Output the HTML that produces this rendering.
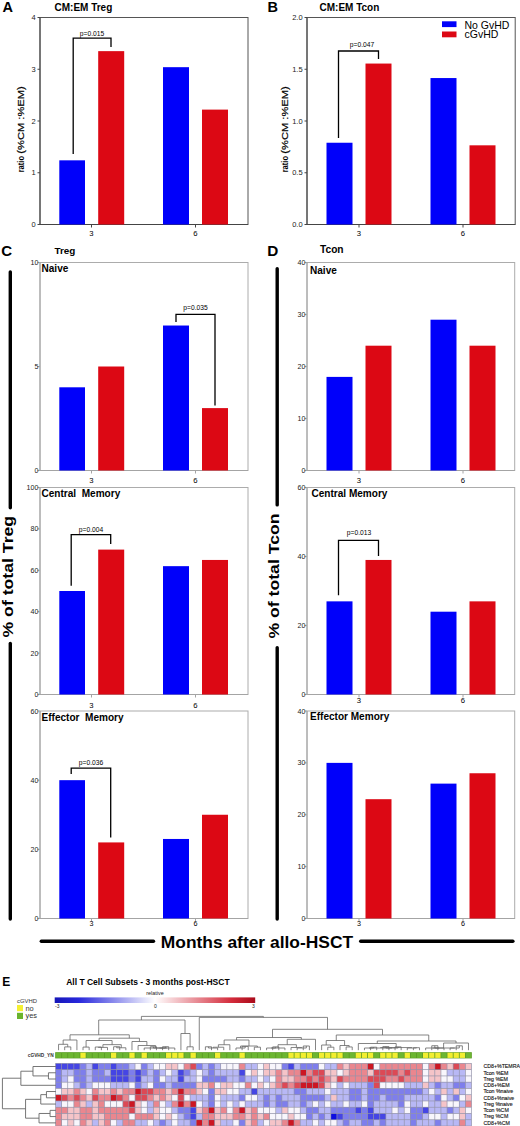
<!DOCTYPE html>
<html><head><meta charset="utf-8"><title>Figure</title>
<style>html,body{margin:0;padding:0;background:#fff;}
svg{display:block;font-family:"Liberation Sans",sans-serif;}</style></head>
<body><svg width="520" height="1126" viewBox="0 0 520 1126">
<rect x="0" y="0" width="520" height="1126" fill="#fff"/>
<rect x="40.00" y="17.50" width="208.00" height="207.00" fill="none" stroke="#555" stroke-width="1"/>
<line x1="40.00" y1="17.50" x2="40.00" y2="224.50" stroke="#444" stroke-width="1" />
<line x1="38.00" y1="224.50" x2="248.00" y2="224.50" stroke="#444" stroke-width="1" />
<line x1="37.50" y1="224.50" x2="40.00" y2="224.50" stroke="#444" stroke-width="1" />
<text x="35.60" y="227.20" font-size="7.5" text-anchor="end" fill="#222" >0</text>
<line x1="37.50" y1="172.75" x2="40.00" y2="172.75" stroke="#444" stroke-width="1" />
<text x="35.60" y="175.45" font-size="7.5" text-anchor="end" fill="#222" >1</text>
<line x1="37.50" y1="121.00" x2="40.00" y2="121.00" stroke="#444" stroke-width="1" />
<text x="35.60" y="123.70" font-size="7.5" text-anchor="end" fill="#222" >2</text>
<line x1="37.50" y1="69.25" x2="40.00" y2="69.25" stroke="#444" stroke-width="1" />
<text x="35.60" y="71.95" font-size="7.5" text-anchor="end" fill="#222" >3</text>
<line x1="37.50" y1="17.50" x2="40.00" y2="17.50" stroke="#444" stroke-width="1" />
<text x="35.60" y="20.20" font-size="7.5" text-anchor="end" fill="#222" >4</text>
<rect x="59.30" y="160.33" width="25.70" height="64.17" fill="#0000fa" />
<rect x="98.20" y="51.14" width="26.00" height="173.36" fill="#dc0814" />
<rect x="163.00" y="67.18" width="26.00" height="157.32" fill="#0000fa" />
<rect x="202.00" y="109.61" width="26.00" height="114.89" fill="#dc0814" />
<line x1="91.50" y1="224.50" x2="91.50" y2="227.50" stroke="#444" stroke-width="1" />
<text x="91.50" y="235.70" font-size="7.7" text-anchor="middle" fill="#000" >3</text>
<line x1="195.50" y1="224.50" x2="195.50" y2="227.50" stroke="#444" stroke-width="1" />
<text x="195.50" y="235.70" font-size="7.7" text-anchor="middle" fill="#000" >6</text>
<polyline points="73.20,154.00 73.20,38.20 111.00,38.20 111.00,47.00" fill="none" stroke="#000" stroke-width="1.3"/>
<text x="92.00" y="35.70" font-size="6.7" text-anchor="middle" fill="#000" >p=0.015</text>
<rect x="307.00" y="17.50" width="208.20" height="207.00" fill="none" stroke="#555" stroke-width="1"/>
<line x1="307.00" y1="17.50" x2="307.00" y2="224.50" stroke="#444" stroke-width="1" />
<line x1="305.00" y1="224.50" x2="515.20" y2="224.50" stroke="#444" stroke-width="1" />
<line x1="304.50" y1="224.50" x2="307.00" y2="224.50" stroke="#444" stroke-width="1" />
<text x="302.60" y="227.20" font-size="7.5" text-anchor="end" fill="#222" >0.0</text>
<line x1="304.50" y1="172.75" x2="307.00" y2="172.75" stroke="#444" stroke-width="1" />
<text x="302.60" y="175.45" font-size="7.5" text-anchor="end" fill="#222" >0.5</text>
<line x1="304.50" y1="121.00" x2="307.00" y2="121.00" stroke="#444" stroke-width="1" />
<text x="302.60" y="123.70" font-size="7.5" text-anchor="end" fill="#222" >1.0</text>
<line x1="304.50" y1="69.25" x2="307.00" y2="69.25" stroke="#444" stroke-width="1" />
<text x="302.60" y="71.95" font-size="7.5" text-anchor="end" fill="#222" >1.5</text>
<line x1="304.50" y1="17.50" x2="307.00" y2="17.50" stroke="#444" stroke-width="1" />
<text x="302.60" y="20.20" font-size="7.5" text-anchor="end" fill="#222" >2.0</text>
<rect x="326.50" y="142.74" width="26.00" height="81.77" fill="#0000fa" />
<rect x="365.50" y="63.56" width="26.00" height="160.94" fill="#dc0814" />
<rect x="430.50" y="78.05" width="26.00" height="146.45" fill="#0000fa" />
<rect x="469.50" y="145.32" width="26.00" height="79.18" fill="#dc0814" />
<line x1="359.00" y1="224.50" x2="359.00" y2="227.50" stroke="#444" stroke-width="1" />
<text x="359.00" y="235.70" font-size="7.7" text-anchor="middle" fill="#000" >3</text>
<line x1="463.00" y1="224.50" x2="463.00" y2="227.50" stroke="#444" stroke-width="1" />
<text x="463.00" y="235.70" font-size="7.7" text-anchor="middle" fill="#000" >6</text>
<polyline points="338.50,138.00 338.50,51.00 378.50,51.00 378.50,59.00" fill="none" stroke="#000" stroke-width="1.3"/>
<text x="362.00" y="47.00" font-size="6.7" text-anchor="middle" fill="#000" >p=0.047</text>
<rect x="40.00" y="262.50" width="208.00" height="208.00" fill="none" stroke="#acacac" stroke-width="1"/>
<line x1="40.00" y1="262.50" x2="40.00" y2="470.50" stroke="#a4a4a4" stroke-width="1" />
<line x1="38.00" y1="470.50" x2="248.00" y2="470.50" stroke="#a4a4a4" stroke-width="1" />
<line x1="37.50" y1="470.50" x2="40.00" y2="470.50" stroke="#a4a4a4" stroke-width="1" />
<text x="38.40" y="473.06" font-size="7.1" text-anchor="end" fill="#222" >0</text>
<line x1="37.50" y1="366.50" x2="40.00" y2="366.50" stroke="#a4a4a4" stroke-width="1" />
<text x="38.40" y="369.06" font-size="7.1" text-anchor="end" fill="#222" >5</text>
<line x1="37.50" y1="262.50" x2="40.00" y2="262.50" stroke="#a4a4a4" stroke-width="1" />
<text x="38.40" y="265.06" font-size="7.1" text-anchor="end" fill="#222" >10</text>
<rect x="59.30" y="387.30" width="25.70" height="83.20" fill="#0000fa" />
<rect x="98.20" y="366.50" width="26.00" height="104.00" fill="#dc0814" />
<rect x="163.00" y="325.52" width="26.00" height="144.98" fill="#0000fa" />
<rect x="202.00" y="408.10" width="26.00" height="62.40" fill="#dc0814" />
<line x1="91.50" y1="470.50" x2="91.50" y2="473.50" stroke="#a4a4a4" stroke-width="1" />
<text x="91.50" y="483.00" font-size="7.7" text-anchor="middle" fill="#000" >3</text>
<line x1="195.50" y1="470.50" x2="195.50" y2="473.50" stroke="#a4a4a4" stroke-width="1" />
<text x="195.50" y="483.00" font-size="7.7" text-anchor="middle" fill="#000" >6</text>
<text x="41.50" y="271.60" font-size="10.05" text-anchor="start" font-weight="bold" fill="#000" >Naive</text>
<polyline points="176.00,322.00 176.00,314.30 215.00,314.30 215.00,405.50" fill="none" stroke="#000" stroke-width="1.3"/>
<text x="195.50" y="310.20" font-size="6.7" text-anchor="middle" fill="#000" >p=0.035</text>
<rect x="40.00" y="487.50" width="208.00" height="207.00" fill="none" stroke="#acacac" stroke-width="1"/>
<line x1="40.00" y1="487.50" x2="40.00" y2="694.50" stroke="#a4a4a4" stroke-width="1" />
<line x1="38.00" y1="694.50" x2="248.00" y2="694.50" stroke="#a4a4a4" stroke-width="1" />
<line x1="37.50" y1="694.50" x2="40.00" y2="694.50" stroke="#a4a4a4" stroke-width="1" />
<text x="38.40" y="697.06" font-size="7.1" text-anchor="end" fill="#222" >0</text>
<line x1="37.50" y1="653.10" x2="40.00" y2="653.10" stroke="#a4a4a4" stroke-width="1" />
<text x="38.40" y="655.66" font-size="7.1" text-anchor="end" fill="#222" >20</text>
<line x1="37.50" y1="611.70" x2="40.00" y2="611.70" stroke="#a4a4a4" stroke-width="1" />
<text x="38.40" y="614.26" font-size="7.1" text-anchor="end" fill="#222" >40</text>
<line x1="37.50" y1="570.30" x2="40.00" y2="570.30" stroke="#a4a4a4" stroke-width="1" />
<text x="38.40" y="572.86" font-size="7.1" text-anchor="end" fill="#222" >60</text>
<line x1="37.50" y1="528.90" x2="40.00" y2="528.90" stroke="#a4a4a4" stroke-width="1" />
<text x="38.40" y="531.46" font-size="7.1" text-anchor="end" fill="#222" >80</text>
<line x1="37.50" y1="487.50" x2="40.00" y2="487.50" stroke="#a4a4a4" stroke-width="1" />
<text x="38.40" y="490.06" font-size="7.1" text-anchor="end" fill="#222" >100</text>
<rect x="59.30" y="591.00" width="25.70" height="103.50" fill="#0000fa" />
<rect x="98.20" y="549.60" width="26.00" height="144.90" fill="#dc0814" />
<rect x="163.00" y="566.16" width="26.00" height="128.34" fill="#0000fa" />
<rect x="202.00" y="559.95" width="26.00" height="134.55" fill="#dc0814" />
<line x1="91.50" y1="694.50" x2="91.50" y2="697.50" stroke="#a4a4a4" stroke-width="1" />
<text x="91.50" y="707.50" font-size="7.7" text-anchor="middle" fill="#000" >3</text>
<line x1="195.50" y1="694.50" x2="195.50" y2="697.50" stroke="#a4a4a4" stroke-width="1" />
<text x="195.50" y="707.50" font-size="7.7" text-anchor="middle" fill="#000" >6</text>
<text x="41.50" y="496.80" font-size="10.05" text-anchor="start" font-weight="bold" fill="#000" >Central&#160;&#160;Memory</text>
<polyline points="71.20,585.70 71.20,534.60 110.70,534.60 110.70,544.00" fill="none" stroke="#000" stroke-width="1.3"/>
<text x="91.00" y="531.70" font-size="6.7" text-anchor="middle" fill="#000" >p=0.004</text>
<rect x="40.00" y="711.00" width="208.00" height="207.50" fill="none" stroke="#acacac" stroke-width="1"/>
<line x1="40.00" y1="711.00" x2="40.00" y2="918.50" stroke="#a4a4a4" stroke-width="1" />
<line x1="38.00" y1="918.50" x2="248.00" y2="918.50" stroke="#a4a4a4" stroke-width="1" />
<line x1="37.50" y1="918.50" x2="40.00" y2="918.50" stroke="#a4a4a4" stroke-width="1" />
<text x="38.40" y="921.06" font-size="7.1" text-anchor="end" fill="#222" >0</text>
<line x1="37.50" y1="849.33" x2="40.00" y2="849.33" stroke="#a4a4a4" stroke-width="1" />
<text x="38.40" y="851.89" font-size="7.1" text-anchor="end" fill="#222" >20</text>
<line x1="37.50" y1="780.17" x2="40.00" y2="780.17" stroke="#a4a4a4" stroke-width="1" />
<text x="38.40" y="782.72" font-size="7.1" text-anchor="end" fill="#222" >40</text>
<line x1="37.50" y1="711.00" x2="40.00" y2="711.00" stroke="#a4a4a4" stroke-width="1" />
<text x="38.40" y="713.56" font-size="7.1" text-anchor="end" fill="#222" >60</text>
<rect x="59.30" y="780.17" width="25.70" height="138.33" fill="#0000fa" />
<rect x="98.20" y="842.42" width="26.00" height="76.08" fill="#dc0814" />
<rect x="163.00" y="838.96" width="26.00" height="79.54" fill="#0000fa" />
<rect x="202.00" y="814.75" width="26.00" height="103.75" fill="#dc0814" />
<line x1="91.50" y1="918.50" x2="91.50" y2="921.50" stroke="#a4a4a4" stroke-width="1" />
<text x="91.50" y="925.90" font-size="7.2" text-anchor="middle" fill="#000" >3</text>
<line x1="195.50" y1="918.50" x2="195.50" y2="921.50" stroke="#a4a4a4" stroke-width="1" />
<text x="195.50" y="925.90" font-size="7.2" text-anchor="middle" fill="#000" >6</text>
<text x="41.50" y="721.00" font-size="10.05" text-anchor="start" font-weight="bold" fill="#000" >Effector&#160;&#160;Memory</text>
<polyline points="71.20,774.00 71.20,768.10 110.70,768.10 110.70,837.50" fill="none" stroke="#000" stroke-width="1.3"/>
<text x="91.00" y="764.80" font-size="6.7" text-anchor="middle" fill="#000" >p=0.036</text>
<rect x="307.00" y="262.50" width="207.70" height="208.00" fill="none" stroke="#acacac" stroke-width="1"/>
<line x1="307.00" y1="262.50" x2="307.00" y2="470.50" stroke="#a4a4a4" stroke-width="1" />
<line x1="305.00" y1="470.50" x2="514.70" y2="470.50" stroke="#a4a4a4" stroke-width="1" />
<line x1="304.50" y1="470.50" x2="307.00" y2="470.50" stroke="#a4a4a4" stroke-width="1" />
<text x="305.40" y="473.06" font-size="7.1" text-anchor="end" fill="#222" >0</text>
<line x1="304.50" y1="418.50" x2="307.00" y2="418.50" stroke="#a4a4a4" stroke-width="1" />
<text x="305.40" y="421.06" font-size="7.1" text-anchor="end" fill="#222" >10</text>
<line x1="304.50" y1="366.50" x2="307.00" y2="366.50" stroke="#a4a4a4" stroke-width="1" />
<text x="305.40" y="369.06" font-size="7.1" text-anchor="end" fill="#222" >20</text>
<line x1="304.50" y1="314.50" x2="307.00" y2="314.50" stroke="#a4a4a4" stroke-width="1" />
<text x="305.40" y="317.06" font-size="7.1" text-anchor="end" fill="#222" >30</text>
<line x1="304.50" y1="262.50" x2="307.00" y2="262.50" stroke="#a4a4a4" stroke-width="1" />
<text x="305.40" y="265.06" font-size="7.1" text-anchor="end" fill="#222" >40</text>
<rect x="326.50" y="376.90" width="26.00" height="93.60" fill="#0000fa" />
<rect x="365.50" y="345.70" width="26.00" height="124.80" fill="#dc0814" />
<rect x="430.50" y="319.70" width="26.00" height="150.80" fill="#0000fa" />
<rect x="469.50" y="345.70" width="26.00" height="124.80" fill="#dc0814" />
<line x1="359.00" y1="470.50" x2="359.00" y2="473.50" stroke="#a4a4a4" stroke-width="1" />
<text x="359.00" y="483.00" font-size="7.7" text-anchor="middle" fill="#000" >3</text>
<line x1="463.00" y1="470.50" x2="463.00" y2="473.50" stroke="#a4a4a4" stroke-width="1" />
<text x="463.00" y="483.00" font-size="7.7" text-anchor="middle" fill="#000" >6</text>
<text x="310.00" y="273.80" font-size="10.05" text-anchor="start" font-weight="bold" fill="#000" >Naive</text>
<rect x="307.00" y="487.50" width="207.70" height="207.00" fill="none" stroke="#acacac" stroke-width="1"/>
<line x1="307.00" y1="487.50" x2="307.00" y2="694.50" stroke="#a4a4a4" stroke-width="1" />
<line x1="305.00" y1="694.50" x2="514.70" y2="694.50" stroke="#a4a4a4" stroke-width="1" />
<line x1="304.50" y1="694.50" x2="307.00" y2="694.50" stroke="#a4a4a4" stroke-width="1" />
<text x="305.40" y="697.06" font-size="7.1" text-anchor="end" fill="#222" >0</text>
<line x1="304.50" y1="625.50" x2="307.00" y2="625.50" stroke="#a4a4a4" stroke-width="1" />
<text x="305.40" y="628.06" font-size="7.1" text-anchor="end" fill="#222" >20</text>
<line x1="304.50" y1="556.50" x2="307.00" y2="556.50" stroke="#a4a4a4" stroke-width="1" />
<text x="305.40" y="559.06" font-size="7.1" text-anchor="end" fill="#222" >40</text>
<line x1="304.50" y1="487.50" x2="307.00" y2="487.50" stroke="#a4a4a4" stroke-width="1" />
<text x="305.40" y="490.06" font-size="7.1" text-anchor="end" fill="#222" >60</text>
<rect x="326.50" y="601.35" width="26.00" height="93.15" fill="#0000fa" />
<rect x="365.50" y="559.95" width="26.00" height="134.55" fill="#dc0814" />
<rect x="430.50" y="611.70" width="26.00" height="82.80" fill="#0000fa" />
<rect x="469.50" y="601.35" width="26.00" height="93.15" fill="#dc0814" />
<line x1="359.00" y1="694.50" x2="359.00" y2="697.50" stroke="#a4a4a4" stroke-width="1" />
<text x="359.00" y="703.40" font-size="7.7" text-anchor="middle" fill="#000" >3</text>
<line x1="463.00" y1="694.50" x2="463.00" y2="697.50" stroke="#a4a4a4" stroke-width="1" />
<text x="463.00" y="703.40" font-size="7.7" text-anchor="middle" fill="#000" >6</text>
<text x="311.50" y="496.80" font-size="10.05" text-anchor="start" font-weight="bold" fill="#000" >Central Memory</text>
<polyline points="338.50,595.30 338.50,540.30 378.50,540.30 378.50,556.00" fill="none" stroke="#000" stroke-width="1.3"/>
<text x="359.00" y="534.70" font-size="6.7" text-anchor="middle" fill="#000" >p=0.013</text>
<rect x="307.00" y="711.00" width="207.70" height="207.50" fill="none" stroke="#acacac" stroke-width="1"/>
<line x1="307.00" y1="711.00" x2="307.00" y2="918.50" stroke="#a4a4a4" stroke-width="1" />
<line x1="305.00" y1="918.50" x2="514.70" y2="918.50" stroke="#a4a4a4" stroke-width="1" />
<line x1="304.50" y1="918.50" x2="307.00" y2="918.50" stroke="#a4a4a4" stroke-width="1" />
<text x="305.40" y="921.06" font-size="7.1" text-anchor="end" fill="#222" >0</text>
<line x1="304.50" y1="866.62" x2="307.00" y2="866.62" stroke="#a4a4a4" stroke-width="1" />
<text x="305.40" y="869.18" font-size="7.1" text-anchor="end" fill="#222" >10</text>
<line x1="304.50" y1="814.75" x2="307.00" y2="814.75" stroke="#a4a4a4" stroke-width="1" />
<text x="305.40" y="817.31" font-size="7.1" text-anchor="end" fill="#222" >20</text>
<line x1="304.50" y1="762.88" x2="307.00" y2="762.88" stroke="#a4a4a4" stroke-width="1" />
<text x="305.40" y="765.43" font-size="7.1" text-anchor="end" fill="#222" >30</text>
<line x1="304.50" y1="711.00" x2="307.00" y2="711.00" stroke="#a4a4a4" stroke-width="1" />
<text x="305.40" y="713.56" font-size="7.1" text-anchor="end" fill="#222" >40</text>
<rect x="326.50" y="762.88" width="26.00" height="155.62" fill="#0000fa" />
<rect x="365.50" y="799.19" width="26.00" height="119.31" fill="#dc0814" />
<rect x="430.50" y="783.62" width="26.00" height="134.88" fill="#0000fa" />
<rect x="469.50" y="773.25" width="26.00" height="145.25" fill="#dc0814" />
<line x1="359.00" y1="918.50" x2="359.00" y2="921.50" stroke="#a4a4a4" stroke-width="1" />
<text x="359.00" y="925.90" font-size="7.2" text-anchor="middle" fill="#000" >3</text>
<line x1="463.00" y1="918.50" x2="463.00" y2="921.50" stroke="#a4a4a4" stroke-width="1" />
<text x="463.00" y="925.90" font-size="7.2" text-anchor="middle" fill="#000" >6</text>
<text x="310.00" y="720.30" font-size="10.05" text-anchor="start" font-weight="bold" fill="#000" >Effector Memory</text>
<text x="2.50" y="12.20" font-size="14.5" text-anchor="start" font-weight="bold" fill="#000" >A</text>
<text x="267.50" y="12.20" font-size="14.5" text-anchor="start" font-weight="bold" fill="#000" >B</text>
<text x="1.30" y="256.20" font-size="15" text-anchor="start" font-weight="bold" fill="#000" >C</text>
<text x="267.20" y="255.60" font-size="15.3" text-anchor="start" font-weight="bold" fill="#000" >D</text>
<text x="2.30" y="986.20" font-size="12" text-anchor="start" font-weight="bold" fill="#000" >E</text>
<text x="54.50" y="10.80" font-size="10" text-anchor="start" font-weight="bold" fill="#000" >CM:EM Treg</text>
<text x="319.50" y="10.80" font-size="10" text-anchor="start" font-weight="bold" fill="#000" >CM:EM Tcon</text>
<text x="54.50" y="253.60" font-size="9.9" text-anchor="start" font-weight="bold" fill="#000" >Treg</text>
<text x="320.00" y="253.00" font-size="10.2" text-anchor="start" font-weight="bold" fill="#000" >Tcon</text>
<g transform="translate(23.8,172.3) rotate(-90)"><text x="0" y="0" font-size="8.8" font-weight="bold" textLength="16.3" lengthAdjust="spacingAndGlyphs">ratio</text><text x="18.6" y="0" font-size="9.3" textLength="67.4" lengthAdjust="spacingAndGlyphs" stroke="#000" stroke-width="0.2">(%CM :%EM)</text></g>
<g transform="translate(288,172.3) rotate(-90)"><text x="0" y="0" font-size="8.8" font-weight="bold" textLength="16.3" lengthAdjust="spacingAndGlyphs">ratio</text><text x="18.6" y="0" font-size="9.3" textLength="67.4" lengthAdjust="spacingAndGlyphs" stroke="#000" stroke-width="0.2">(%CM :%EM)</text></g>
<rect x="442.00" y="21.30" width="14.50" height="5.80" fill="#0000fa" />
<rect x="442.00" y="31.50" width="14.50" height="5.80" fill="#dc0814" />
<text x="464.50" y="28.50" font-size="10.5" text-anchor="start" fill="#000" >No GvHD</text>
<text x="464.50" y="38.30" font-size="10.5" text-anchor="start" fill="#000" >cGvHD</text>
<line x1="10.30" y1="272.00" x2="10.30" y2="507.70" stroke="#000" stroke-width="3.4" stroke-linecap="round"/>
<line x1="10.30" y1="643.50" x2="10.30" y2="919.10" stroke="#000" stroke-width="3.4" stroke-linecap="round"/>
<line x1="277.20" y1="268.70" x2="277.20" y2="504.90" stroke="#000" stroke-width="3.4" stroke-linecap="round"/>
<line x1="277.20" y1="647.80" x2="277.20" y2="919.10" stroke="#000" stroke-width="3.4" stroke-linecap="round"/>
<line x1="41.30" y1="941.30" x2="153.50" y2="941.30" stroke="#000" stroke-width="3.4" stroke-linecap="round"/>
<line x1="360.70" y1="941.30" x2="512.90" y2="941.30" stroke="#000" stroke-width="3.4" stroke-linecap="round"/>
<text x="0.00" y="0.00" font-size="15.4" text-anchor="start" font-weight="bold" fill="#000" transform="translate(13.1,637.5) rotate(-90)" textLength="121.6" lengthAdjust="spacingAndGlyphs">% of total Treg</text>
<text x="0.00" y="0.00" font-size="15.5" text-anchor="start" font-weight="bold" fill="#000" transform="translate(279.2,638.5) rotate(-90)" textLength="125" lengthAdjust="spacingAndGlyphs">% of total Tcon</text>
<text x="160.80" y="947.60" font-size="17.4" text-anchor="start" font-weight="bold" fill="#000" >Months after allo-HSCT</text>
<text x="66.20" y="985.00" font-size="8.5" text-anchor="start" font-weight="bold" fill="#000" >All T Cell Subsets - 3 months post-HSCT</text>
<text x="17.00" y="1002.60" font-size="5.9" text-anchor="start" fill="#333" >cGVHD</text>
<rect x="17.00" y="1005.00" width="6.00" height="6.20" fill="#f5f032" />
<text x="25.50" y="1010.60" font-size="7.4" text-anchor="start" fill="#333" >no</text>
<rect x="17.00" y="1012.80" width="6.00" height="6.20" fill="#6ab42d" />
<text x="25.50" y="1018.20" font-size="7.4" text-anchor="start" fill="#333" >yes</text>
<text x="155.00" y="995.40" font-size="5.4" text-anchor="middle" fill="#222" >relative</text>
<defs><linearGradient id="cb" x1="0" x2="1" y1="0" y2="0"><stop offset="0" stop-color="#1616b8"/><stop offset="0.12" stop-color="#2828dc"/><stop offset="0.5" stop-color="#ffffff"/><stop offset="0.88" stop-color="#d42c3c"/><stop offset="1" stop-color="#aa0a1a"/></linearGradient></defs>
<rect x="54.70" y="997.40" width="200.50" height="5.60" fill="url(#cb)" />
<text x="57.20" y="1008.30" font-size="5" text-anchor="middle" fill="#222" >-3</text>
<text x="155.50" y="1008.30" font-size="5" text-anchor="middle" fill="#222" >0</text>
<text x="253.50" y="1008.30" font-size="5" text-anchor="middle" fill="#222" >3</text>
<defs><filter id="bl" x="-2%" y="-5%" width="104%" height="110%"><feGaussianBlur stdDeviation="0.45"/></filter></defs><g filter="url(#bl)">
<rect x="55.20" y="1063.10" width="416.62" height="63.20" fill="#9494aa" />
<rect x="55.85" y="1063.75" width="5.42" height="5.56" fill="#4444e4" />
<rect x="61.97" y="1063.75" width="5.42" height="5.56" fill="#4444e4" />
<rect x="68.09" y="1063.75" width="5.42" height="5.56" fill="#4444e4" />
<rect x="74.20" y="1063.75" width="5.42" height="5.56" fill="#4444e4" />
<rect x="80.32" y="1063.75" width="5.42" height="5.56" fill="#7e7eec" />
<rect x="86.44" y="1063.75" width="5.42" height="5.56" fill="#b8b8f5" />
<rect x="92.56" y="1063.75" width="5.42" height="5.56" fill="#4444e4" />
<rect x="98.68" y="1063.75" width="5.42" height="5.56" fill="#7e7eec" />
<rect x="104.79" y="1063.75" width="5.42" height="5.56" fill="#7e7eec" />
<rect x="110.91" y="1063.75" width="5.42" height="5.56" fill="#4444e4" />
<rect x="117.03" y="1063.75" width="5.42" height="5.56" fill="#7e7eec" />
<rect x="123.15" y="1063.75" width="5.42" height="5.56" fill="#7e7eec" />
<rect x="129.27" y="1063.75" width="5.42" height="5.56" fill="#b8b8f5" />
<rect x="135.38" y="1063.75" width="5.42" height="5.56" fill="#f8f6fc" />
<rect x="141.50" y="1063.75" width="5.42" height="5.56" fill="#7e7eec" />
<rect x="147.62" y="1063.75" width="5.42" height="5.56" fill="#b8b8f5" />
<rect x="153.74" y="1063.75" width="5.42" height="5.56" fill="#f8f6fc" />
<rect x="159.86" y="1063.75" width="5.42" height="5.56" fill="#f8f6fc" />
<rect x="165.97" y="1063.75" width="5.42" height="5.56" fill="#f5c4c8" />
<rect x="172.09" y="1063.75" width="5.42" height="5.56" fill="#f5c4c8" />
<rect x="178.21" y="1063.75" width="5.42" height="5.56" fill="#f8f6fc" />
<rect x="184.33" y="1063.75" width="5.42" height="5.56" fill="#ea868e" />
<rect x="190.45" y="1063.75" width="5.42" height="5.56" fill="#dc4a54" />
<rect x="196.56" y="1063.75" width="5.42" height="5.56" fill="#7e7eec" />
<rect x="202.68" y="1063.75" width="5.42" height="5.56" fill="#b8b8f5" />
<rect x="208.80" y="1063.75" width="5.42" height="5.56" fill="#7e7eec" />
<rect x="214.92" y="1063.75" width="5.42" height="5.56" fill="#b8b8f5" />
<rect x="221.04" y="1063.75" width="5.42" height="5.56" fill="#f8f6fc" />
<rect x="227.15" y="1063.75" width="5.42" height="5.56" fill="#f8f6fc" />
<rect x="233.27" y="1063.75" width="5.42" height="5.56" fill="#f8f6fc" />
<rect x="239.39" y="1063.75" width="5.42" height="5.56" fill="#ea868e" />
<rect x="245.51" y="1063.75" width="5.42" height="5.56" fill="#b8b8f5" />
<rect x="251.63" y="1063.75" width="5.42" height="5.56" fill="#b8b8f5" />
<rect x="257.74" y="1063.75" width="5.42" height="5.56" fill="#f8f6fc" />
<rect x="263.86" y="1063.75" width="5.42" height="5.56" fill="#f5c4c8" />
<rect x="269.98" y="1063.75" width="5.42" height="5.56" fill="#f8f6fc" />
<rect x="276.10" y="1063.75" width="5.42" height="5.56" fill="#f8f6fc" />
<rect x="282.22" y="1063.75" width="5.42" height="5.56" fill="#7e7eec" />
<rect x="288.33" y="1063.75" width="5.42" height="5.56" fill="#4444e4" />
<rect x="294.45" y="1063.75" width="5.42" height="5.56" fill="#b8b8f5" />
<rect x="300.57" y="1063.75" width="5.42" height="5.56" fill="#7e7eec" />
<rect x="306.69" y="1063.75" width="5.42" height="5.56" fill="#7e7eec" />
<rect x="312.81" y="1063.75" width="5.42" height="5.56" fill="#7e7eec" />
<rect x="318.92" y="1063.75" width="5.42" height="5.56" fill="#f8f6fc" />
<rect x="325.04" y="1063.75" width="5.42" height="5.56" fill="#b8b8f5" />
<rect x="331.16" y="1063.75" width="5.42" height="5.56" fill="#b8b8f5" />
<rect x="337.28" y="1063.75" width="5.42" height="5.56" fill="#ea868e" />
<rect x="343.40" y="1063.75" width="5.42" height="5.56" fill="#f5c4c8" />
<rect x="349.51" y="1063.75" width="5.42" height="5.56" fill="#ea868e" />
<rect x="355.63" y="1063.75" width="5.42" height="5.56" fill="#ea868e" />
<rect x="361.75" y="1063.75" width="5.42" height="5.56" fill="#ea868e" />
<rect x="367.87" y="1063.75" width="5.42" height="5.56" fill="#cc1422" />
<rect x="373.99" y="1063.75" width="5.42" height="5.56" fill="#f8f6fc" />
<rect x="380.10" y="1063.75" width="5.42" height="5.56" fill="#ea868e" />
<rect x="386.22" y="1063.75" width="5.42" height="5.56" fill="#ea868e" />
<rect x="392.34" y="1063.75" width="5.42" height="5.56" fill="#ea868e" />
<rect x="398.46" y="1063.75" width="5.42" height="5.56" fill="#ea868e" />
<rect x="404.58" y="1063.75" width="5.42" height="5.56" fill="#ea868e" />
<rect x="410.69" y="1063.75" width="5.42" height="5.56" fill="#ea868e" />
<rect x="416.81" y="1063.75" width="5.42" height="5.56" fill="#ea868e" />
<rect x="422.93" y="1063.75" width="5.42" height="5.56" fill="#f8f6fc" />
<rect x="429.05" y="1063.75" width="5.42" height="5.56" fill="#ea868e" />
<rect x="435.17" y="1063.75" width="5.42" height="5.56" fill="#cc1422" />
<rect x="441.28" y="1063.75" width="5.42" height="5.56" fill="#ea868e" />
<rect x="447.40" y="1063.75" width="5.42" height="5.56" fill="#f5c4c8" />
<rect x="453.52" y="1063.75" width="5.42" height="5.56" fill="#dc4a54" />
<rect x="459.64" y="1063.75" width="5.42" height="5.56" fill="#ea868e" />
<rect x="465.76" y="1063.75" width="5.42" height="5.56" fill="#f5c4c8" />
<rect x="55.85" y="1070.01" width="5.42" height="5.56" fill="#7e7eec" />
<rect x="61.97" y="1070.01" width="5.42" height="5.56" fill="#b8b8f5" />
<rect x="68.09" y="1070.01" width="5.42" height="5.56" fill="#b8b8f5" />
<rect x="74.20" y="1070.01" width="5.42" height="5.56" fill="#7e7eec" />
<rect x="80.32" y="1070.01" width="5.42" height="5.56" fill="#7e7eec" />
<rect x="86.44" y="1070.01" width="5.42" height="5.56" fill="#b8b8f5" />
<rect x="92.56" y="1070.01" width="5.42" height="5.56" fill="#7e7eec" />
<rect x="98.68" y="1070.01" width="5.42" height="5.56" fill="#7e7eec" />
<rect x="104.79" y="1070.01" width="5.42" height="5.56" fill="#b8b8f5" />
<rect x="110.91" y="1070.01" width="5.42" height="5.56" fill="#4444e4" />
<rect x="117.03" y="1070.01" width="5.42" height="5.56" fill="#4444e4" />
<rect x="123.15" y="1070.01" width="5.42" height="5.56" fill="#4444e4" />
<rect x="129.27" y="1070.01" width="5.42" height="5.56" fill="#7e7eec" />
<rect x="135.38" y="1070.01" width="5.42" height="5.56" fill="#4444e4" />
<rect x="141.50" y="1070.01" width="5.42" height="5.56" fill="#7e7eec" />
<rect x="147.62" y="1070.01" width="5.42" height="5.56" fill="#b8b8f5" />
<rect x="153.74" y="1070.01" width="5.42" height="5.56" fill="#7e7eec" />
<rect x="159.86" y="1070.01" width="5.42" height="5.56" fill="#b8b8f5" />
<rect x="165.97" y="1070.01" width="5.42" height="5.56" fill="#f8f6fc" />
<rect x="172.09" y="1070.01" width="5.42" height="5.56" fill="#b8b8f5" />
<rect x="178.21" y="1070.01" width="5.42" height="5.56" fill="#4444e4" />
<rect x="184.33" y="1070.01" width="5.42" height="5.56" fill="#7e7eec" />
<rect x="190.45" y="1070.01" width="5.42" height="5.56" fill="#b8b8f5" />
<rect x="196.56" y="1070.01" width="5.42" height="5.56" fill="#f8f6fc" />
<rect x="202.68" y="1070.01" width="5.42" height="5.56" fill="#b8b8f5" />
<rect x="208.80" y="1070.01" width="5.42" height="5.56" fill="#7e7eec" />
<rect x="214.92" y="1070.01" width="5.42" height="5.56" fill="#b8b8f5" />
<rect x="221.04" y="1070.01" width="5.42" height="5.56" fill="#b8b8f5" />
<rect x="227.15" y="1070.01" width="5.42" height="5.56" fill="#b8b8f5" />
<rect x="233.27" y="1070.01" width="5.42" height="5.56" fill="#b8b8f5" />
<rect x="239.39" y="1070.01" width="5.42" height="5.56" fill="#4444e4" />
<rect x="245.51" y="1070.01" width="5.42" height="5.56" fill="#f8f6fc" />
<rect x="251.63" y="1070.01" width="5.42" height="5.56" fill="#f5c4c8" />
<rect x="257.74" y="1070.01" width="5.42" height="5.56" fill="#f8f6fc" />
<rect x="263.86" y="1070.01" width="5.42" height="5.56" fill="#f5c4c8" />
<rect x="269.98" y="1070.01" width="5.42" height="5.56" fill="#f5c4c8" />
<rect x="276.10" y="1070.01" width="5.42" height="5.56" fill="#ea868e" />
<rect x="282.22" y="1070.01" width="5.42" height="5.56" fill="#f5c4c8" />
<rect x="288.33" y="1070.01" width="5.42" height="5.56" fill="#ea868e" />
<rect x="294.45" y="1070.01" width="5.42" height="5.56" fill="#ea868e" />
<rect x="300.57" y="1070.01" width="5.42" height="5.56" fill="#cc1422" />
<rect x="306.69" y="1070.01" width="5.42" height="5.56" fill="#ea868e" />
<rect x="312.81" y="1070.01" width="5.42" height="5.56" fill="#dc4a54" />
<rect x="318.92" y="1070.01" width="5.42" height="5.56" fill="#dc4a54" />
<rect x="325.04" y="1070.01" width="5.42" height="5.56" fill="#f5c4c8" />
<rect x="331.16" y="1070.01" width="5.42" height="5.56" fill="#f5c4c8" />
<rect x="337.28" y="1070.01" width="5.42" height="5.56" fill="#f8f6fc" />
<rect x="343.40" y="1070.01" width="5.42" height="5.56" fill="#f5c4c8" />
<rect x="349.51" y="1070.01" width="5.42" height="5.56" fill="#ea868e" />
<rect x="355.63" y="1070.01" width="5.42" height="5.56" fill="#ea868e" />
<rect x="361.75" y="1070.01" width="5.42" height="5.56" fill="#ea868e" />
<rect x="367.87" y="1070.01" width="5.42" height="5.56" fill="#f5c4c8" />
<rect x="373.99" y="1070.01" width="5.42" height="5.56" fill="#dc4a54" />
<rect x="380.10" y="1070.01" width="5.42" height="5.56" fill="#dc4a54" />
<rect x="386.22" y="1070.01" width="5.42" height="5.56" fill="#dc4a54" />
<rect x="392.34" y="1070.01" width="5.42" height="5.56" fill="#dc4a54" />
<rect x="398.46" y="1070.01" width="5.42" height="5.56" fill="#ea868e" />
<rect x="404.58" y="1070.01" width="5.42" height="5.56" fill="#dc4a54" />
<rect x="410.69" y="1070.01" width="5.42" height="5.56" fill="#ea868e" />
<rect x="416.81" y="1070.01" width="5.42" height="5.56" fill="#ea868e" />
<rect x="422.93" y="1070.01" width="5.42" height="5.56" fill="#f8f6fc" />
<rect x="429.05" y="1070.01" width="5.42" height="5.56" fill="#f5c4c8" />
<rect x="435.17" y="1070.01" width="5.42" height="5.56" fill="#f5c4c8" />
<rect x="441.28" y="1070.01" width="5.42" height="5.56" fill="#f8f6fc" />
<rect x="447.40" y="1070.01" width="5.42" height="5.56" fill="#b8b8f5" />
<rect x="453.52" y="1070.01" width="5.42" height="5.56" fill="#b8b8f5" />
<rect x="459.64" y="1070.01" width="5.42" height="5.56" fill="#b8b8f5" />
<rect x="465.76" y="1070.01" width="5.42" height="5.56" fill="#f8f6fc" />
<rect x="55.85" y="1076.27" width="5.42" height="5.56" fill="#7e7eec" />
<rect x="61.97" y="1076.27" width="5.42" height="5.56" fill="#b8b8f5" />
<rect x="68.09" y="1076.27" width="5.42" height="5.56" fill="#f8f6fc" />
<rect x="74.20" y="1076.27" width="5.42" height="5.56" fill="#7e7eec" />
<rect x="80.32" y="1076.27" width="5.42" height="5.56" fill="#7e7eec" />
<rect x="86.44" y="1076.27" width="5.42" height="5.56" fill="#b8b8f5" />
<rect x="92.56" y="1076.27" width="5.42" height="5.56" fill="#7e7eec" />
<rect x="98.68" y="1076.27" width="5.42" height="5.56" fill="#7e7eec" />
<rect x="104.79" y="1076.27" width="5.42" height="5.56" fill="#7e7eec" />
<rect x="110.91" y="1076.27" width="5.42" height="5.56" fill="#4444e4" />
<rect x="117.03" y="1076.27" width="5.42" height="5.56" fill="#4444e4" />
<rect x="123.15" y="1076.27" width="5.42" height="5.56" fill="#4444e4" />
<rect x="129.27" y="1076.27" width="5.42" height="5.56" fill="#7e7eec" />
<rect x="135.38" y="1076.27" width="5.42" height="5.56" fill="#4444e4" />
<rect x="141.50" y="1076.27" width="5.42" height="5.56" fill="#b8b8f5" />
<rect x="147.62" y="1076.27" width="5.42" height="5.56" fill="#b8b8f5" />
<rect x="153.74" y="1076.27" width="5.42" height="5.56" fill="#7e7eec" />
<rect x="159.86" y="1076.27" width="5.42" height="5.56" fill="#f8f6fc" />
<rect x="165.97" y="1076.27" width="5.42" height="5.56" fill="#b8b8f5" />
<rect x="172.09" y="1076.27" width="5.42" height="5.56" fill="#b8b8f5" />
<rect x="178.21" y="1076.27" width="5.42" height="5.56" fill="#4444e4" />
<rect x="184.33" y="1076.27" width="5.42" height="5.56" fill="#b8b8f5" />
<rect x="190.45" y="1076.27" width="5.42" height="5.56" fill="#b8b8f5" />
<rect x="196.56" y="1076.27" width="5.42" height="5.56" fill="#f8f6fc" />
<rect x="202.68" y="1076.27" width="5.42" height="5.56" fill="#7e7eec" />
<rect x="208.80" y="1076.27" width="5.42" height="5.56" fill="#7e7eec" />
<rect x="214.92" y="1076.27" width="5.42" height="5.56" fill="#7e7eec" />
<rect x="221.04" y="1076.27" width="5.42" height="5.56" fill="#7e7eec" />
<rect x="227.15" y="1076.27" width="5.42" height="5.56" fill="#b8b8f5" />
<rect x="233.27" y="1076.27" width="5.42" height="5.56" fill="#b8b8f5" />
<rect x="239.39" y="1076.27" width="5.42" height="5.56" fill="#7e7eec" />
<rect x="245.51" y="1076.27" width="5.42" height="5.56" fill="#b8b8f5" />
<rect x="251.63" y="1076.27" width="5.42" height="5.56" fill="#b8b8f5" />
<rect x="257.74" y="1076.27" width="5.42" height="5.56" fill="#f8f6fc" />
<rect x="263.86" y="1076.27" width="5.42" height="5.56" fill="#b8b8f5" />
<rect x="269.98" y="1076.27" width="5.42" height="5.56" fill="#f8f6fc" />
<rect x="276.10" y="1076.27" width="5.42" height="5.56" fill="#ea868e" />
<rect x="282.22" y="1076.27" width="5.42" height="5.56" fill="#f5c4c8" />
<rect x="288.33" y="1076.27" width="5.42" height="5.56" fill="#f5c4c8" />
<rect x="294.45" y="1076.27" width="5.42" height="5.56" fill="#ea868e" />
<rect x="300.57" y="1076.27" width="5.42" height="5.56" fill="#ea868e" />
<rect x="306.69" y="1076.27" width="5.42" height="5.56" fill="#dc4a54" />
<rect x="312.81" y="1076.27" width="5.42" height="5.56" fill="#ea868e" />
<rect x="318.92" y="1076.27" width="5.42" height="5.56" fill="#dc4a54" />
<rect x="325.04" y="1076.27" width="5.42" height="5.56" fill="#ea868e" />
<rect x="331.16" y="1076.27" width="5.42" height="5.56" fill="#f5c4c8" />
<rect x="337.28" y="1076.27" width="5.42" height="5.56" fill="#dc4a54" />
<rect x="343.40" y="1076.27" width="5.42" height="5.56" fill="#ea868e" />
<rect x="349.51" y="1076.27" width="5.42" height="5.56" fill="#ea868e" />
<rect x="355.63" y="1076.27" width="5.42" height="5.56" fill="#ea868e" />
<rect x="361.75" y="1076.27" width="5.42" height="5.56" fill="#ea868e" />
<rect x="367.87" y="1076.27" width="5.42" height="5.56" fill="#dc4a54" />
<rect x="373.99" y="1076.27" width="5.42" height="5.56" fill="#dc4a54" />
<rect x="380.10" y="1076.27" width="5.42" height="5.56" fill="#dc4a54" />
<rect x="386.22" y="1076.27" width="5.42" height="5.56" fill="#ea868e" />
<rect x="392.34" y="1076.27" width="5.42" height="5.56" fill="#ea868e" />
<rect x="398.46" y="1076.27" width="5.42" height="5.56" fill="#dc4a54" />
<rect x="404.58" y="1076.27" width="5.42" height="5.56" fill="#ea868e" />
<rect x="410.69" y="1076.27" width="5.42" height="5.56" fill="#ea868e" />
<rect x="416.81" y="1076.27" width="5.42" height="5.56" fill="#ea868e" />
<rect x="422.93" y="1076.27" width="5.42" height="5.56" fill="#f8f6fc" />
<rect x="429.05" y="1076.27" width="5.42" height="5.56" fill="#f5c4c8" />
<rect x="435.17" y="1076.27" width="5.42" height="5.56" fill="#f5c4c8" />
<rect x="441.28" y="1076.27" width="5.42" height="5.56" fill="#f8f6fc" />
<rect x="447.40" y="1076.27" width="5.42" height="5.56" fill="#f8f6fc" />
<rect x="453.52" y="1076.27" width="5.42" height="5.56" fill="#b8b8f5" />
<rect x="459.64" y="1076.27" width="5.42" height="5.56" fill="#b8b8f5" />
<rect x="465.76" y="1076.27" width="5.42" height="5.56" fill="#f8f6fc" />
<rect x="55.85" y="1082.53" width="5.42" height="5.56" fill="#7e7eec" />
<rect x="61.97" y="1082.53" width="5.42" height="5.56" fill="#f8f6fc" />
<rect x="68.09" y="1082.53" width="5.42" height="5.56" fill="#f8f6fc" />
<rect x="74.20" y="1082.53" width="5.42" height="5.56" fill="#b8b8f5" />
<rect x="80.32" y="1082.53" width="5.42" height="5.56" fill="#7e7eec" />
<rect x="86.44" y="1082.53" width="5.42" height="5.56" fill="#b8b8f5" />
<rect x="92.56" y="1082.53" width="5.42" height="5.56" fill="#f8f6fc" />
<rect x="98.68" y="1082.53" width="5.42" height="5.56" fill="#f8f6fc" />
<rect x="104.79" y="1082.53" width="5.42" height="5.56" fill="#f8f6fc" />
<rect x="110.91" y="1082.53" width="5.42" height="5.56" fill="#b8b8f5" />
<rect x="117.03" y="1082.53" width="5.42" height="5.56" fill="#b8b8f5" />
<rect x="123.15" y="1082.53" width="5.42" height="5.56" fill="#b8b8f5" />
<rect x="129.27" y="1082.53" width="5.42" height="5.56" fill="#f8f6fc" />
<rect x="135.38" y="1082.53" width="5.42" height="5.56" fill="#7e7eec" />
<rect x="141.50" y="1082.53" width="5.42" height="5.56" fill="#b8b8f5" />
<rect x="147.62" y="1082.53" width="5.42" height="5.56" fill="#f8f6fc" />
<rect x="153.74" y="1082.53" width="5.42" height="5.56" fill="#7e7eec" />
<rect x="159.86" y="1082.53" width="5.42" height="5.56" fill="#7e7eec" />
<rect x="165.97" y="1082.53" width="5.42" height="5.56" fill="#b8b8f5" />
<rect x="172.09" y="1082.53" width="5.42" height="5.56" fill="#7e7eec" />
<rect x="178.21" y="1082.53" width="5.42" height="5.56" fill="#7e7eec" />
<rect x="184.33" y="1082.53" width="5.42" height="5.56" fill="#7e7eec" />
<rect x="190.45" y="1082.53" width="5.42" height="5.56" fill="#7e7eec" />
<rect x="196.56" y="1082.53" width="5.42" height="5.56" fill="#f5c4c8" />
<rect x="202.68" y="1082.53" width="5.42" height="5.56" fill="#f5c4c8" />
<rect x="208.80" y="1082.53" width="5.42" height="5.56" fill="#ea868e" />
<rect x="214.92" y="1082.53" width="5.42" height="5.56" fill="#f8f6fc" />
<rect x="221.04" y="1082.53" width="5.42" height="5.56" fill="#f5c4c8" />
<rect x="227.15" y="1082.53" width="5.42" height="5.56" fill="#f5c4c8" />
<rect x="233.27" y="1082.53" width="5.42" height="5.56" fill="#f8f6fc" />
<rect x="239.39" y="1082.53" width="5.42" height="5.56" fill="#f8f6fc" />
<rect x="245.51" y="1082.53" width="5.42" height="5.56" fill="#ea868e" />
<rect x="251.63" y="1082.53" width="5.42" height="5.56" fill="#f8f6fc" />
<rect x="257.74" y="1082.53" width="5.42" height="5.56" fill="#f5c4c8" />
<rect x="263.86" y="1082.53" width="5.42" height="5.56" fill="#f8f6fc" />
<rect x="269.98" y="1082.53" width="5.42" height="5.56" fill="#f5c4c8" />
<rect x="276.10" y="1082.53" width="5.42" height="5.56" fill="#ea868e" />
<rect x="282.22" y="1082.53" width="5.42" height="5.56" fill="#dc4a54" />
<rect x="288.33" y="1082.53" width="5.42" height="5.56" fill="#ea868e" />
<rect x="294.45" y="1082.53" width="5.42" height="5.56" fill="#dc4a54" />
<rect x="300.57" y="1082.53" width="5.42" height="5.56" fill="#cc1422" />
<rect x="306.69" y="1082.53" width="5.42" height="5.56" fill="#cc1422" />
<rect x="312.81" y="1082.53" width="5.42" height="5.56" fill="#cc1422" />
<rect x="318.92" y="1082.53" width="5.42" height="5.56" fill="#dc4a54" />
<rect x="325.04" y="1082.53" width="5.42" height="5.56" fill="#f5c4c8" />
<rect x="331.16" y="1082.53" width="5.42" height="5.56" fill="#f8f6fc" />
<rect x="337.28" y="1082.53" width="5.42" height="5.56" fill="#b8b8f5" />
<rect x="343.40" y="1082.53" width="5.42" height="5.56" fill="#f8f6fc" />
<rect x="349.51" y="1082.53" width="5.42" height="5.56" fill="#b8b8f5" />
<rect x="355.63" y="1082.53" width="5.42" height="5.56" fill="#b8b8f5" />
<rect x="361.75" y="1082.53" width="5.42" height="5.56" fill="#b8b8f5" />
<rect x="367.87" y="1082.53" width="5.42" height="5.56" fill="#7e7eec" />
<rect x="373.99" y="1082.53" width="5.42" height="5.56" fill="#dc4a54" />
<rect x="380.10" y="1082.53" width="5.42" height="5.56" fill="#f8f6fc" />
<rect x="386.22" y="1082.53" width="5.42" height="5.56" fill="#f8f6fc" />
<rect x="392.34" y="1082.53" width="5.42" height="5.56" fill="#f8f6fc" />
<rect x="398.46" y="1082.53" width="5.42" height="5.56" fill="#f8f6fc" />
<rect x="404.58" y="1082.53" width="5.42" height="5.56" fill="#b8b8f5" />
<rect x="410.69" y="1082.53" width="5.42" height="5.56" fill="#b8b8f5" />
<rect x="416.81" y="1082.53" width="5.42" height="5.56" fill="#b8b8f5" />
<rect x="422.93" y="1082.53" width="5.42" height="5.56" fill="#f5c4c8" />
<rect x="429.05" y="1082.53" width="5.42" height="5.56" fill="#b8b8f5" />
<rect x="435.17" y="1082.53" width="5.42" height="5.56" fill="#7e7eec" />
<rect x="441.28" y="1082.53" width="5.42" height="5.56" fill="#b8b8f5" />
<rect x="447.40" y="1082.53" width="5.42" height="5.56" fill="#b8b8f5" />
<rect x="453.52" y="1082.53" width="5.42" height="5.56" fill="#7e7eec" />
<rect x="459.64" y="1082.53" width="5.42" height="5.56" fill="#7e7eec" />
<rect x="465.76" y="1082.53" width="5.42" height="5.56" fill="#b8b8f5" />
<rect x="55.85" y="1088.79" width="5.42" height="5.56" fill="#f8f6fc" />
<rect x="61.97" y="1088.79" width="5.42" height="5.56" fill="#f5c4c8" />
<rect x="68.09" y="1088.79" width="5.42" height="5.56" fill="#f5c4c8" />
<rect x="74.20" y="1088.79" width="5.42" height="5.56" fill="#ea868e" />
<rect x="80.32" y="1088.79" width="5.42" height="5.56" fill="#f5c4c8" />
<rect x="86.44" y="1088.79" width="5.42" height="5.56" fill="#f8f6fc" />
<rect x="92.56" y="1088.79" width="5.42" height="5.56" fill="#ea868e" />
<rect x="98.68" y="1088.79" width="5.42" height="5.56" fill="#f5c4c8" />
<rect x="104.79" y="1088.79" width="5.42" height="5.56" fill="#f5c4c8" />
<rect x="110.91" y="1088.79" width="5.42" height="5.56" fill="#ea868e" />
<rect x="117.03" y="1088.79" width="5.42" height="5.56" fill="#f5c4c8" />
<rect x="123.15" y="1088.79" width="5.42" height="5.56" fill="#ea868e" />
<rect x="129.27" y="1088.79" width="5.42" height="5.56" fill="#ea868e" />
<rect x="135.38" y="1088.79" width="5.42" height="5.56" fill="#cc1422" />
<rect x="141.50" y="1088.79" width="5.42" height="5.56" fill="#dc4a54" />
<rect x="147.62" y="1088.79" width="5.42" height="5.56" fill="#dc4a54" />
<rect x="153.74" y="1088.79" width="5.42" height="5.56" fill="#ea868e" />
<rect x="159.86" y="1088.79" width="5.42" height="5.56" fill="#ea868e" />
<rect x="165.97" y="1088.79" width="5.42" height="5.56" fill="#f5c4c8" />
<rect x="172.09" y="1088.79" width="5.42" height="5.56" fill="#ea868e" />
<rect x="178.21" y="1088.79" width="5.42" height="5.56" fill="#cc1422" />
<rect x="184.33" y="1088.79" width="5.42" height="5.56" fill="#ea868e" />
<rect x="190.45" y="1088.79" width="5.42" height="5.56" fill="#ea868e" />
<rect x="196.56" y="1088.79" width="5.42" height="5.56" fill="#f5c4c8" />
<rect x="202.68" y="1088.79" width="5.42" height="5.56" fill="#f8f6fc" />
<rect x="208.80" y="1088.79" width="5.42" height="5.56" fill="#7e7eec" />
<rect x="214.92" y="1088.79" width="5.42" height="5.56" fill="#f5c4c8" />
<rect x="221.04" y="1088.79" width="5.42" height="5.56" fill="#f5c4c8" />
<rect x="227.15" y="1088.79" width="5.42" height="5.56" fill="#f8f6fc" />
<rect x="233.27" y="1088.79" width="5.42" height="5.56" fill="#f8f6fc" />
<rect x="239.39" y="1088.79" width="5.42" height="5.56" fill="#b8b8f5" />
<rect x="245.51" y="1088.79" width="5.42" height="5.56" fill="#b8b8f5" />
<rect x="251.63" y="1088.79" width="5.42" height="5.56" fill="#4444e4" />
<rect x="257.74" y="1088.79" width="5.42" height="5.56" fill="#b8b8f5" />
<rect x="263.86" y="1088.79" width="5.42" height="5.56" fill="#b8b8f5" />
<rect x="269.98" y="1088.79" width="5.42" height="5.56" fill="#b8b8f5" />
<rect x="276.10" y="1088.79" width="5.42" height="5.56" fill="#b8b8f5" />
<rect x="282.22" y="1088.79" width="5.42" height="5.56" fill="#b8b8f5" />
<rect x="288.33" y="1088.79" width="5.42" height="5.56" fill="#b8b8f5" />
<rect x="294.45" y="1088.79" width="5.42" height="5.56" fill="#7e7eec" />
<rect x="300.57" y="1088.79" width="5.42" height="5.56" fill="#7e7eec" />
<rect x="306.69" y="1088.79" width="5.42" height="5.56" fill="#b8b8f5" />
<rect x="312.81" y="1088.79" width="5.42" height="5.56" fill="#b8b8f5" />
<rect x="318.92" y="1088.79" width="5.42" height="5.56" fill="#b8b8f5" />
<rect x="325.04" y="1088.79" width="5.42" height="5.56" fill="#f8f6fc" />
<rect x="331.16" y="1088.79" width="5.42" height="5.56" fill="#b8b8f5" />
<rect x="337.28" y="1088.79" width="5.42" height="5.56" fill="#b8b8f5" />
<rect x="343.40" y="1088.79" width="5.42" height="5.56" fill="#b8b8f5" />
<rect x="349.51" y="1088.79" width="5.42" height="5.56" fill="#7e7eec" />
<rect x="355.63" y="1088.79" width="5.42" height="5.56" fill="#7e7eec" />
<rect x="361.75" y="1088.79" width="5.42" height="5.56" fill="#b8b8f5" />
<rect x="367.87" y="1088.79" width="5.42" height="5.56" fill="#7e7eec" />
<rect x="373.99" y="1088.79" width="5.42" height="5.56" fill="#7e7eec" />
<rect x="380.10" y="1088.79" width="5.42" height="5.56" fill="#7e7eec" />
<rect x="386.22" y="1088.79" width="5.42" height="5.56" fill="#7e7eec" />
<rect x="392.34" y="1088.79" width="5.42" height="5.56" fill="#7e7eec" />
<rect x="398.46" y="1088.79" width="5.42" height="5.56" fill="#7e7eec" />
<rect x="404.58" y="1088.79" width="5.42" height="5.56" fill="#7e7eec" />
<rect x="410.69" y="1088.79" width="5.42" height="5.56" fill="#7e7eec" />
<rect x="416.81" y="1088.79" width="5.42" height="5.56" fill="#7e7eec" />
<rect x="422.93" y="1088.79" width="5.42" height="5.56" fill="#b8b8f5" />
<rect x="429.05" y="1088.79" width="5.42" height="5.56" fill="#f8f6fc" />
<rect x="435.17" y="1088.79" width="5.42" height="5.56" fill="#b8b8f5" />
<rect x="441.28" y="1088.79" width="5.42" height="5.56" fill="#f5c4c8" />
<rect x="447.40" y="1088.79" width="5.42" height="5.56" fill="#b8b8f5" />
<rect x="453.52" y="1088.79" width="5.42" height="5.56" fill="#f5c4c8" />
<rect x="459.64" y="1088.79" width="5.42" height="5.56" fill="#b8b8f5" />
<rect x="465.76" y="1088.79" width="5.42" height="5.56" fill="#f8f6fc" />
<rect x="55.85" y="1095.05" width="5.42" height="5.56" fill="#cc1422" />
<rect x="61.97" y="1095.05" width="5.42" height="5.56" fill="#dc4a54" />
<rect x="68.09" y="1095.05" width="5.42" height="5.56" fill="#ea868e" />
<rect x="74.20" y="1095.05" width="5.42" height="5.56" fill="#dc4a54" />
<rect x="80.32" y="1095.05" width="5.42" height="5.56" fill="#ea868e" />
<rect x="86.44" y="1095.05" width="5.42" height="5.56" fill="#f5c4c8" />
<rect x="92.56" y="1095.05" width="5.42" height="5.56" fill="#dc4a54" />
<rect x="98.68" y="1095.05" width="5.42" height="5.56" fill="#ea868e" />
<rect x="104.79" y="1095.05" width="5.42" height="5.56" fill="#ea868e" />
<rect x="110.91" y="1095.05" width="5.42" height="5.56" fill="#cc1422" />
<rect x="117.03" y="1095.05" width="5.42" height="5.56" fill="#dc4a54" />
<rect x="123.15" y="1095.05" width="5.42" height="5.56" fill="#ea868e" />
<rect x="129.27" y="1095.05" width="5.42" height="5.56" fill="#f8f6fc" />
<rect x="135.38" y="1095.05" width="5.42" height="5.56" fill="#dc4a54" />
<rect x="141.50" y="1095.05" width="5.42" height="5.56" fill="#dc4a54" />
<rect x="147.62" y="1095.05" width="5.42" height="5.56" fill="#ea868e" />
<rect x="153.74" y="1095.05" width="5.42" height="5.56" fill="#f5c4c8" />
<rect x="159.86" y="1095.05" width="5.42" height="5.56" fill="#ea868e" />
<rect x="165.97" y="1095.05" width="5.42" height="5.56" fill="#f5c4c8" />
<rect x="172.09" y="1095.05" width="5.42" height="5.56" fill="#f8f6fc" />
<rect x="178.21" y="1095.05" width="5.42" height="5.56" fill="#dc4a54" />
<rect x="184.33" y="1095.05" width="5.42" height="5.56" fill="#f8f6fc" />
<rect x="190.45" y="1095.05" width="5.42" height="5.56" fill="#b8b8f5" />
<rect x="196.56" y="1095.05" width="5.42" height="5.56" fill="#b8b8f5" />
<rect x="202.68" y="1095.05" width="5.42" height="5.56" fill="#b8b8f5" />
<rect x="208.80" y="1095.05" width="5.42" height="5.56" fill="#7e7eec" />
<rect x="214.92" y="1095.05" width="5.42" height="5.56" fill="#f8f6fc" />
<rect x="221.04" y="1095.05" width="5.42" height="5.56" fill="#b8b8f5" />
<rect x="227.15" y="1095.05" width="5.42" height="5.56" fill="#b8b8f5" />
<rect x="233.27" y="1095.05" width="5.42" height="5.56" fill="#b8b8f5" />
<rect x="239.39" y="1095.05" width="5.42" height="5.56" fill="#7e7eec" />
<rect x="245.51" y="1095.05" width="5.42" height="5.56" fill="#f8f6fc" />
<rect x="251.63" y="1095.05" width="5.42" height="5.56" fill="#f8f6fc" />
<rect x="257.74" y="1095.05" width="5.42" height="5.56" fill="#b8b8f5" />
<rect x="263.86" y="1095.05" width="5.42" height="5.56" fill="#7e7eec" />
<rect x="269.98" y="1095.05" width="5.42" height="5.56" fill="#b8b8f5" />
<rect x="276.10" y="1095.05" width="5.42" height="5.56" fill="#7e7eec" />
<rect x="282.22" y="1095.05" width="5.42" height="5.56" fill="#b8b8f5" />
<rect x="288.33" y="1095.05" width="5.42" height="5.56" fill="#b8b8f5" />
<rect x="294.45" y="1095.05" width="5.42" height="5.56" fill="#b8b8f5" />
<rect x="300.57" y="1095.05" width="5.42" height="5.56" fill="#7e7eec" />
<rect x="306.69" y="1095.05" width="5.42" height="5.56" fill="#7e7eec" />
<rect x="312.81" y="1095.05" width="5.42" height="5.56" fill="#7e7eec" />
<rect x="318.92" y="1095.05" width="5.42" height="5.56" fill="#7e7eec" />
<rect x="325.04" y="1095.05" width="5.42" height="5.56" fill="#b8b8f5" />
<rect x="331.16" y="1095.05" width="5.42" height="5.56" fill="#f5c4c8" />
<rect x="337.28" y="1095.05" width="5.42" height="5.56" fill="#b8b8f5" />
<rect x="343.40" y="1095.05" width="5.42" height="5.56" fill="#b8b8f5" />
<rect x="349.51" y="1095.05" width="5.42" height="5.56" fill="#7e7eec" />
<rect x="355.63" y="1095.05" width="5.42" height="5.56" fill="#7e7eec" />
<rect x="361.75" y="1095.05" width="5.42" height="5.56" fill="#b8b8f5" />
<rect x="367.87" y="1095.05" width="5.42" height="5.56" fill="#7e7eec" />
<rect x="373.99" y="1095.05" width="5.42" height="5.56" fill="#7e7eec" />
<rect x="380.10" y="1095.05" width="5.42" height="5.56" fill="#b8b8f5" />
<rect x="386.22" y="1095.05" width="5.42" height="5.56" fill="#7e7eec" />
<rect x="392.34" y="1095.05" width="5.42" height="5.56" fill="#7e7eec" />
<rect x="398.46" y="1095.05" width="5.42" height="5.56" fill="#7e7eec" />
<rect x="404.58" y="1095.05" width="5.42" height="5.56" fill="#b8b8f5" />
<rect x="410.69" y="1095.05" width="5.42" height="5.56" fill="#b8b8f5" />
<rect x="416.81" y="1095.05" width="5.42" height="5.56" fill="#b8b8f5" />
<rect x="422.93" y="1095.05" width="5.42" height="5.56" fill="#b8b8f5" />
<rect x="429.05" y="1095.05" width="5.42" height="5.56" fill="#b8b8f5" />
<rect x="435.17" y="1095.05" width="5.42" height="5.56" fill="#7e7eec" />
<rect x="441.28" y="1095.05" width="5.42" height="5.56" fill="#f8f6fc" />
<rect x="447.40" y="1095.05" width="5.42" height="5.56" fill="#b8b8f5" />
<rect x="453.52" y="1095.05" width="5.42" height="5.56" fill="#7e7eec" />
<rect x="459.64" y="1095.05" width="5.42" height="5.56" fill="#f8f6fc" />
<rect x="465.76" y="1095.05" width="5.42" height="5.56" fill="#f5c4c8" />
<rect x="55.85" y="1101.31" width="5.42" height="5.56" fill="#b8b8f5" />
<rect x="61.97" y="1101.31" width="5.42" height="5.56" fill="#f8f6fc" />
<rect x="68.09" y="1101.31" width="5.42" height="5.56" fill="#f8f6fc" />
<rect x="74.20" y="1101.31" width="5.42" height="5.56" fill="#ea868e" />
<rect x="80.32" y="1101.31" width="5.42" height="5.56" fill="#f5c4c8" />
<rect x="86.44" y="1101.31" width="5.42" height="5.56" fill="#b8b8f5" />
<rect x="92.56" y="1101.31" width="5.42" height="5.56" fill="#f5c4c8" />
<rect x="98.68" y="1101.31" width="5.42" height="5.56" fill="#ea868e" />
<rect x="104.79" y="1101.31" width="5.42" height="5.56" fill="#f8f6fc" />
<rect x="110.91" y="1101.31" width="5.42" height="5.56" fill="#f8f6fc" />
<rect x="117.03" y="1101.31" width="5.42" height="5.56" fill="#f8f6fc" />
<rect x="123.15" y="1101.31" width="5.42" height="5.56" fill="#dc4a54" />
<rect x="129.27" y="1101.31" width="5.42" height="5.56" fill="#cc1422" />
<rect x="135.38" y="1101.31" width="5.42" height="5.56" fill="#f5c4c8" />
<rect x="141.50" y="1101.31" width="5.42" height="5.56" fill="#f8f6fc" />
<rect x="147.62" y="1101.31" width="5.42" height="5.56" fill="#b8b8f5" />
<rect x="153.74" y="1101.31" width="5.42" height="5.56" fill="#ea868e" />
<rect x="159.86" y="1101.31" width="5.42" height="5.56" fill="#f8f6fc" />
<rect x="165.97" y="1101.31" width="5.42" height="5.56" fill="#b8b8f5" />
<rect x="172.09" y="1101.31" width="5.42" height="5.56" fill="#ea868e" />
<rect x="178.21" y="1101.31" width="5.42" height="5.56" fill="#cc1422" />
<rect x="184.33" y="1101.31" width="5.42" height="5.56" fill="#ea868e" />
<rect x="190.45" y="1101.31" width="5.42" height="5.56" fill="#cc1422" />
<rect x="196.56" y="1101.31" width="5.42" height="5.56" fill="#f8f6fc" />
<rect x="202.68" y="1101.31" width="5.42" height="5.56" fill="#b8b8f5" />
<rect x="208.80" y="1101.31" width="5.42" height="5.56" fill="#7e7eec" />
<rect x="214.92" y="1101.31" width="5.42" height="5.56" fill="#f8f6fc" />
<rect x="221.04" y="1101.31" width="5.42" height="5.56" fill="#b8b8f5" />
<rect x="227.15" y="1101.31" width="5.42" height="5.56" fill="#f8f6fc" />
<rect x="233.27" y="1101.31" width="5.42" height="5.56" fill="#b8b8f5" />
<rect x="239.39" y="1101.31" width="5.42" height="5.56" fill="#f8f6fc" />
<rect x="245.51" y="1101.31" width="5.42" height="5.56" fill="#b8b8f5" />
<rect x="251.63" y="1101.31" width="5.42" height="5.56" fill="#b8b8f5" />
<rect x="257.74" y="1101.31" width="5.42" height="5.56" fill="#b8b8f5" />
<rect x="263.86" y="1101.31" width="5.42" height="5.56" fill="#7e7eec" />
<rect x="269.98" y="1101.31" width="5.42" height="5.56" fill="#b8b8f5" />
<rect x="276.10" y="1101.31" width="5.42" height="5.56" fill="#7e7eec" />
<rect x="282.22" y="1101.31" width="5.42" height="5.56" fill="#7e7eec" />
<rect x="288.33" y="1101.31" width="5.42" height="5.56" fill="#b8b8f5" />
<rect x="294.45" y="1101.31" width="5.42" height="5.56" fill="#b8b8f5" />
<rect x="300.57" y="1101.31" width="5.42" height="5.56" fill="#7e7eec" />
<rect x="306.69" y="1101.31" width="5.42" height="5.56" fill="#b8b8f5" />
<rect x="312.81" y="1101.31" width="5.42" height="5.56" fill="#f8f6fc" />
<rect x="318.92" y="1101.31" width="5.42" height="5.56" fill="#b8b8f5" />
<rect x="325.04" y="1101.31" width="5.42" height="5.56" fill="#f8f6fc" />
<rect x="331.16" y="1101.31" width="5.42" height="5.56" fill="#b8b8f5" />
<rect x="337.28" y="1101.31" width="5.42" height="5.56" fill="#b8b8f5" />
<rect x="343.40" y="1101.31" width="5.42" height="5.56" fill="#f8f6fc" />
<rect x="349.51" y="1101.31" width="5.42" height="5.56" fill="#b8b8f5" />
<rect x="355.63" y="1101.31" width="5.42" height="5.56" fill="#b8b8f5" />
<rect x="361.75" y="1101.31" width="5.42" height="5.56" fill="#f8f6fc" />
<rect x="367.87" y="1101.31" width="5.42" height="5.56" fill="#7e7eec" />
<rect x="373.99" y="1101.31" width="5.42" height="5.56" fill="#b8b8f5" />
<rect x="380.10" y="1101.31" width="5.42" height="5.56" fill="#b8b8f5" />
<rect x="386.22" y="1101.31" width="5.42" height="5.56" fill="#b8b8f5" />
<rect x="392.34" y="1101.31" width="5.42" height="5.56" fill="#b8b8f5" />
<rect x="398.46" y="1101.31" width="5.42" height="5.56" fill="#7e7eec" />
<rect x="404.58" y="1101.31" width="5.42" height="5.56" fill="#f8f6fc" />
<rect x="410.69" y="1101.31" width="5.42" height="5.56" fill="#b8b8f5" />
<rect x="416.81" y="1101.31" width="5.42" height="5.56" fill="#b8b8f5" />
<rect x="422.93" y="1101.31" width="5.42" height="5.56" fill="#f8f6fc" />
<rect x="429.05" y="1101.31" width="5.42" height="5.56" fill="#b8b8f5" />
<rect x="435.17" y="1101.31" width="5.42" height="5.56" fill="#b8b8f5" />
<rect x="441.28" y="1101.31" width="5.42" height="5.56" fill="#f5c4c8" />
<rect x="447.40" y="1101.31" width="5.42" height="5.56" fill="#f8f6fc" />
<rect x="453.52" y="1101.31" width="5.42" height="5.56" fill="#f8f6fc" />
<rect x="459.64" y="1101.31" width="5.42" height="5.56" fill="#b8b8f5" />
<rect x="465.76" y="1101.31" width="5.42" height="5.56" fill="#ea868e" />
<rect x="55.85" y="1107.57" width="5.42" height="5.56" fill="#ea868e" />
<rect x="61.97" y="1107.57" width="5.42" height="5.56" fill="#ea868e" />
<rect x="68.09" y="1107.57" width="5.42" height="5.56" fill="#f5c4c8" />
<rect x="74.20" y="1107.57" width="5.42" height="5.56" fill="#f5c4c8" />
<rect x="80.32" y="1107.57" width="5.42" height="5.56" fill="#ea868e" />
<rect x="86.44" y="1107.57" width="5.42" height="5.56" fill="#ea868e" />
<rect x="92.56" y="1107.57" width="5.42" height="5.56" fill="#f5c4c8" />
<rect x="98.68" y="1107.57" width="5.42" height="5.56" fill="#ea868e" />
<rect x="104.79" y="1107.57" width="5.42" height="5.56" fill="#ea868e" />
<rect x="110.91" y="1107.57" width="5.42" height="5.56" fill="#ea868e" />
<rect x="117.03" y="1107.57" width="5.42" height="5.56" fill="#ea868e" />
<rect x="123.15" y="1107.57" width="5.42" height="5.56" fill="#ea868e" />
<rect x="129.27" y="1107.57" width="5.42" height="5.56" fill="#dc4a54" />
<rect x="135.38" y="1107.57" width="5.42" height="5.56" fill="#f5c4c8" />
<rect x="141.50" y="1107.57" width="5.42" height="5.56" fill="#f8f6fc" />
<rect x="147.62" y="1107.57" width="5.42" height="5.56" fill="#b8b8f5" />
<rect x="153.74" y="1107.57" width="5.42" height="5.56" fill="#f5c4c8" />
<rect x="159.86" y="1107.57" width="5.42" height="5.56" fill="#f8f6fc" />
<rect x="165.97" y="1107.57" width="5.42" height="5.56" fill="#f8f6fc" />
<rect x="172.09" y="1107.57" width="5.42" height="5.56" fill="#b8b8f5" />
<rect x="178.21" y="1107.57" width="5.42" height="5.56" fill="#7e7eec" />
<rect x="184.33" y="1107.57" width="5.42" height="5.56" fill="#7e7eec" />
<rect x="190.45" y="1107.57" width="5.42" height="5.56" fill="#4444e4" />
<rect x="196.56" y="1107.57" width="5.42" height="5.56" fill="#f5c4c8" />
<rect x="202.68" y="1107.57" width="5.42" height="5.56" fill="#ea868e" />
<rect x="208.80" y="1107.57" width="5.42" height="5.56" fill="#cc1422" />
<rect x="214.92" y="1107.57" width="5.42" height="5.56" fill="#f5c4c8" />
<rect x="221.04" y="1107.57" width="5.42" height="5.56" fill="#ea868e" />
<rect x="227.15" y="1107.57" width="5.42" height="5.56" fill="#f8f6fc" />
<rect x="233.27" y="1107.57" width="5.42" height="5.56" fill="#ea868e" />
<rect x="239.39" y="1107.57" width="5.42" height="5.56" fill="#cc1422" />
<rect x="245.51" y="1107.57" width="5.42" height="5.56" fill="#f5c4c8" />
<rect x="251.63" y="1107.57" width="5.42" height="5.56" fill="#ea868e" />
<rect x="257.74" y="1107.57" width="5.42" height="5.56" fill="#f8f6fc" />
<rect x="263.86" y="1107.57" width="5.42" height="5.56" fill="#f8f6fc" />
<rect x="269.98" y="1107.57" width="5.42" height="5.56" fill="#f8f6fc" />
<rect x="276.10" y="1107.57" width="5.42" height="5.56" fill="#b8b8f5" />
<rect x="282.22" y="1107.57" width="5.42" height="5.56" fill="#f5c4c8" />
<rect x="288.33" y="1107.57" width="5.42" height="5.56" fill="#f8f6fc" />
<rect x="294.45" y="1107.57" width="5.42" height="5.56" fill="#f8f6fc" />
<rect x="300.57" y="1107.57" width="5.42" height="5.56" fill="#b8b8f5" />
<rect x="306.69" y="1107.57" width="5.42" height="5.56" fill="#7e7eec" />
<rect x="312.81" y="1107.57" width="5.42" height="5.56" fill="#7e7eec" />
<rect x="318.92" y="1107.57" width="5.42" height="5.56" fill="#b8b8f5" />
<rect x="325.04" y="1107.57" width="5.42" height="5.56" fill="#b8b8f5" />
<rect x="331.16" y="1107.57" width="5.42" height="5.56" fill="#7e7eec" />
<rect x="337.28" y="1107.57" width="5.42" height="5.56" fill="#7e7eec" />
<rect x="343.40" y="1107.57" width="5.42" height="5.56" fill="#7e7eec" />
<rect x="349.51" y="1107.57" width="5.42" height="5.56" fill="#7e7eec" />
<rect x="355.63" y="1107.57" width="5.42" height="5.56" fill="#4444e4" />
<rect x="361.75" y="1107.57" width="5.42" height="5.56" fill="#7e7eec" />
<rect x="367.87" y="1107.57" width="5.42" height="5.56" fill="#4444e4" />
<rect x="373.99" y="1107.57" width="5.42" height="5.56" fill="#b8b8f5" />
<rect x="380.10" y="1107.57" width="5.42" height="5.56" fill="#b8b8f5" />
<rect x="386.22" y="1107.57" width="5.42" height="5.56" fill="#b8b8f5" />
<rect x="392.34" y="1107.57" width="5.42" height="5.56" fill="#f8f6fc" />
<rect x="398.46" y="1107.57" width="5.42" height="5.56" fill="#b8b8f5" />
<rect x="404.58" y="1107.57" width="5.42" height="5.56" fill="#f8f6fc" />
<rect x="410.69" y="1107.57" width="5.42" height="5.56" fill="#7e7eec" />
<rect x="416.81" y="1107.57" width="5.42" height="5.56" fill="#7e7eec" />
<rect x="422.93" y="1107.57" width="5.42" height="5.56" fill="#4444e4" />
<rect x="429.05" y="1107.57" width="5.42" height="5.56" fill="#b8b8f5" />
<rect x="435.17" y="1107.57" width="5.42" height="5.56" fill="#b8b8f5" />
<rect x="441.28" y="1107.57" width="5.42" height="5.56" fill="#b8b8f5" />
<rect x="447.40" y="1107.57" width="5.42" height="5.56" fill="#7e7eec" />
<rect x="453.52" y="1107.57" width="5.42" height="5.56" fill="#b8b8f5" />
<rect x="459.64" y="1107.57" width="5.42" height="5.56" fill="#f5c4c8" />
<rect x="465.76" y="1107.57" width="5.42" height="5.56" fill="#f8f6fc" />
<rect x="55.85" y="1113.83" width="5.42" height="5.56" fill="#ea868e" />
<rect x="61.97" y="1113.83" width="5.42" height="5.56" fill="#f5c4c8" />
<rect x="68.09" y="1113.83" width="5.42" height="5.56" fill="#f5c4c8" />
<rect x="74.20" y="1113.83" width="5.42" height="5.56" fill="#f5c4c8" />
<rect x="80.32" y="1113.83" width="5.42" height="5.56" fill="#ea868e" />
<rect x="86.44" y="1113.83" width="5.42" height="5.56" fill="#ea868e" />
<rect x="92.56" y="1113.83" width="5.42" height="5.56" fill="#f5c4c8" />
<rect x="98.68" y="1113.83" width="5.42" height="5.56" fill="#f5c4c8" />
<rect x="104.79" y="1113.83" width="5.42" height="5.56" fill="#ea868e" />
<rect x="110.91" y="1113.83" width="5.42" height="5.56" fill="#ea868e" />
<rect x="117.03" y="1113.83" width="5.42" height="5.56" fill="#ea868e" />
<rect x="123.15" y="1113.83" width="5.42" height="5.56" fill="#ea868e" />
<rect x="129.27" y="1113.83" width="5.42" height="5.56" fill="#f8f6fc" />
<rect x="135.38" y="1113.83" width="5.42" height="5.56" fill="#ea868e" />
<rect x="141.50" y="1113.83" width="5.42" height="5.56" fill="#ea868e" />
<rect x="147.62" y="1113.83" width="5.42" height="5.56" fill="#ea868e" />
<rect x="153.74" y="1113.83" width="5.42" height="5.56" fill="#f5c4c8" />
<rect x="159.86" y="1113.83" width="5.42" height="5.56" fill="#f8f6fc" />
<rect x="165.97" y="1113.83" width="5.42" height="5.56" fill="#f5c4c8" />
<rect x="172.09" y="1113.83" width="5.42" height="5.56" fill="#f8f6fc" />
<rect x="178.21" y="1113.83" width="5.42" height="5.56" fill="#b8b8f5" />
<rect x="184.33" y="1113.83" width="5.42" height="5.56" fill="#7e7eec" />
<rect x="190.45" y="1113.83" width="5.42" height="5.56" fill="#4444e4" />
<rect x="196.56" y="1113.83" width="5.42" height="5.56" fill="#b8b8f5" />
<rect x="202.68" y="1113.83" width="5.42" height="5.56" fill="#ea868e" />
<rect x="208.80" y="1113.83" width="5.42" height="5.56" fill="#ea868e" />
<rect x="214.92" y="1113.83" width="5.42" height="5.56" fill="#f5c4c8" />
<rect x="221.04" y="1113.83" width="5.42" height="5.56" fill="#f5c4c8" />
<rect x="227.15" y="1113.83" width="5.42" height="5.56" fill="#f5c4c8" />
<rect x="233.27" y="1113.83" width="5.42" height="5.56" fill="#ea868e" />
<rect x="239.39" y="1113.83" width="5.42" height="5.56" fill="#ea868e" />
<rect x="245.51" y="1113.83" width="5.42" height="5.56" fill="#f5c4c8" />
<rect x="251.63" y="1113.83" width="5.42" height="5.56" fill="#ea868e" />
<rect x="257.74" y="1113.83" width="5.42" height="5.56" fill="#f5c4c8" />
<rect x="263.86" y="1113.83" width="5.42" height="5.56" fill="#ea868e" />
<rect x="269.98" y="1113.83" width="5.42" height="5.56" fill="#f8f6fc" />
<rect x="276.10" y="1113.83" width="5.42" height="5.56" fill="#f8f6fc" />
<rect x="282.22" y="1113.83" width="5.42" height="5.56" fill="#f8f6fc" />
<rect x="288.33" y="1113.83" width="5.42" height="5.56" fill="#f5c4c8" />
<rect x="294.45" y="1113.83" width="5.42" height="5.56" fill="#f8f6fc" />
<rect x="300.57" y="1113.83" width="5.42" height="5.56" fill="#f8f6fc" />
<rect x="306.69" y="1113.83" width="5.42" height="5.56" fill="#7e7eec" />
<rect x="312.81" y="1113.83" width="5.42" height="5.56" fill="#b8b8f5" />
<rect x="318.92" y="1113.83" width="5.42" height="5.56" fill="#7e7eec" />
<rect x="325.04" y="1113.83" width="5.42" height="5.56" fill="#b8b8f5" />
<rect x="331.16" y="1113.83" width="5.42" height="5.56" fill="#1010e0" />
<rect x="337.28" y="1113.83" width="5.42" height="5.56" fill="#4444e4" />
<rect x="343.40" y="1113.83" width="5.42" height="5.56" fill="#7e7eec" />
<rect x="349.51" y="1113.83" width="5.42" height="5.56" fill="#7e7eec" />
<rect x="355.63" y="1113.83" width="5.42" height="5.56" fill="#7e7eec" />
<rect x="361.75" y="1113.83" width="5.42" height="5.56" fill="#7e7eec" />
<rect x="367.87" y="1113.83" width="5.42" height="5.56" fill="#4444e4" />
<rect x="373.99" y="1113.83" width="5.42" height="5.56" fill="#4444e4" />
<rect x="380.10" y="1113.83" width="5.42" height="5.56" fill="#4444e4" />
<rect x="386.22" y="1113.83" width="5.42" height="5.56" fill="#b8b8f5" />
<rect x="392.34" y="1113.83" width="5.42" height="5.56" fill="#b8b8f5" />
<rect x="398.46" y="1113.83" width="5.42" height="5.56" fill="#b8b8f5" />
<rect x="404.58" y="1113.83" width="5.42" height="5.56" fill="#b8b8f5" />
<rect x="410.69" y="1113.83" width="5.42" height="5.56" fill="#7e7eec" />
<rect x="416.81" y="1113.83" width="5.42" height="5.56" fill="#7e7eec" />
<rect x="422.93" y="1113.83" width="5.42" height="5.56" fill="#b8b8f5" />
<rect x="429.05" y="1113.83" width="5.42" height="5.56" fill="#f8f6fc" />
<rect x="435.17" y="1113.83" width="5.42" height="5.56" fill="#f8f6fc" />
<rect x="441.28" y="1113.83" width="5.42" height="5.56" fill="#b8b8f5" />
<rect x="447.40" y="1113.83" width="5.42" height="5.56" fill="#f8f6fc" />
<rect x="453.52" y="1113.83" width="5.42" height="5.56" fill="#f8f6fc" />
<rect x="459.64" y="1113.83" width="5.42" height="5.56" fill="#f5c4c8" />
<rect x="465.76" y="1113.83" width="5.42" height="5.56" fill="#b8b8f5" />
<rect x="55.85" y="1120.09" width="5.42" height="5.56" fill="#ea868e" />
<rect x="61.97" y="1120.09" width="5.42" height="5.56" fill="#f8f6fc" />
<rect x="68.09" y="1120.09" width="5.42" height="5.56" fill="#f5c4c8" />
<rect x="74.20" y="1120.09" width="5.42" height="5.56" fill="#f8f6fc" />
<rect x="80.32" y="1120.09" width="5.42" height="5.56" fill="#ea868e" />
<rect x="86.44" y="1120.09" width="5.42" height="5.56" fill="#f5c4c8" />
<rect x="92.56" y="1120.09" width="5.42" height="5.56" fill="#b8b8f5" />
<rect x="98.68" y="1120.09" width="5.42" height="5.56" fill="#f5c4c8" />
<rect x="104.79" y="1120.09" width="5.42" height="5.56" fill="#ea868e" />
<rect x="110.91" y="1120.09" width="5.42" height="5.56" fill="#f8f6fc" />
<rect x="117.03" y="1120.09" width="5.42" height="5.56" fill="#b8b8f5" />
<rect x="123.15" y="1120.09" width="5.42" height="5.56" fill="#ea868e" />
<rect x="129.27" y="1120.09" width="5.42" height="5.56" fill="#ea868e" />
<rect x="135.38" y="1120.09" width="5.42" height="5.56" fill="#b8b8f5" />
<rect x="141.50" y="1120.09" width="5.42" height="5.56" fill="#b8b8f5" />
<rect x="147.62" y="1120.09" width="5.42" height="5.56" fill="#f8f6fc" />
<rect x="153.74" y="1120.09" width="5.42" height="5.56" fill="#b8b8f5" />
<rect x="159.86" y="1120.09" width="5.42" height="5.56" fill="#7e7eec" />
<rect x="165.97" y="1120.09" width="5.42" height="5.56" fill="#b8b8f5" />
<rect x="172.09" y="1120.09" width="5.42" height="5.56" fill="#f8f6fc" />
<rect x="178.21" y="1120.09" width="5.42" height="5.56" fill="#b8b8f5" />
<rect x="184.33" y="1120.09" width="5.42" height="5.56" fill="#b8b8f5" />
<rect x="190.45" y="1120.09" width="5.42" height="5.56" fill="#7e7eec" />
<rect x="196.56" y="1120.09" width="5.42" height="5.56" fill="#cc1422" />
<rect x="202.68" y="1120.09" width="5.42" height="5.56" fill="#ea868e" />
<rect x="208.80" y="1120.09" width="5.42" height="5.56" fill="#cc1422" />
<rect x="214.92" y="1120.09" width="5.42" height="5.56" fill="#f5c4c8" />
<rect x="221.04" y="1120.09" width="5.42" height="5.56" fill="#b8b8f5" />
<rect x="227.15" y="1120.09" width="5.42" height="5.56" fill="#b8b8f5" />
<rect x="233.27" y="1120.09" width="5.42" height="5.56" fill="#f8f6fc" />
<rect x="239.39" y="1120.09" width="5.42" height="5.56" fill="#7e7eec" />
<rect x="245.51" y="1120.09" width="5.42" height="5.56" fill="#f5c4c8" />
<rect x="251.63" y="1120.09" width="5.42" height="5.56" fill="#ea868e" />
<rect x="257.74" y="1120.09" width="5.42" height="5.56" fill="#b8b8f5" />
<rect x="263.86" y="1120.09" width="5.42" height="5.56" fill="#f8f6fc" />
<rect x="269.98" y="1120.09" width="5.42" height="5.56" fill="#f5c4c8" />
<rect x="276.10" y="1120.09" width="5.42" height="5.56" fill="#f5c4c8" />
<rect x="282.22" y="1120.09" width="5.42" height="5.56" fill="#ea868e" />
<rect x="288.33" y="1120.09" width="5.42" height="5.56" fill="#cc1422" />
<rect x="294.45" y="1120.09" width="5.42" height="5.56" fill="#ea868e" />
<rect x="300.57" y="1120.09" width="5.42" height="5.56" fill="#b8b8f5" />
<rect x="306.69" y="1120.09" width="5.42" height="5.56" fill="#b8b8f5" />
<rect x="312.81" y="1120.09" width="5.42" height="5.56" fill="#f8f6fc" />
<rect x="318.92" y="1120.09" width="5.42" height="5.56" fill="#b8b8f5" />
<rect x="325.04" y="1120.09" width="5.42" height="5.56" fill="#f8f6fc" />
<rect x="331.16" y="1120.09" width="5.42" height="5.56" fill="#f8f6fc" />
<rect x="337.28" y="1120.09" width="5.42" height="5.56" fill="#b8b8f5" />
<rect x="343.40" y="1120.09" width="5.42" height="5.56" fill="#7e7eec" />
<rect x="349.51" y="1120.09" width="5.42" height="5.56" fill="#b8b8f5" />
<rect x="355.63" y="1120.09" width="5.42" height="5.56" fill="#b8b8f5" />
<rect x="361.75" y="1120.09" width="5.42" height="5.56" fill="#7e7eec" />
<rect x="367.87" y="1120.09" width="5.42" height="5.56" fill="#7e7eec" />
<rect x="373.99" y="1120.09" width="5.42" height="5.56" fill="#b8b8f5" />
<rect x="380.10" y="1120.09" width="5.42" height="5.56" fill="#7e7eec" />
<rect x="386.22" y="1120.09" width="5.42" height="5.56" fill="#b8b8f5" />
<rect x="392.34" y="1120.09" width="5.42" height="5.56" fill="#b8b8f5" />
<rect x="398.46" y="1120.09" width="5.42" height="5.56" fill="#b8b8f5" />
<rect x="404.58" y="1120.09" width="5.42" height="5.56" fill="#b8b8f5" />
<rect x="410.69" y="1120.09" width="5.42" height="5.56" fill="#7e7eec" />
<rect x="416.81" y="1120.09" width="5.42" height="5.56" fill="#b8b8f5" />
<rect x="422.93" y="1120.09" width="5.42" height="5.56" fill="#b8b8f5" />
<rect x="429.05" y="1120.09" width="5.42" height="5.56" fill="#b8b8f5" />
<rect x="435.17" y="1120.09" width="5.42" height="5.56" fill="#7e7eec" />
<rect x="441.28" y="1120.09" width="5.42" height="5.56" fill="#b8b8f5" />
<rect x="447.40" y="1120.09" width="5.42" height="5.56" fill="#b8b8f5" />
<rect x="453.52" y="1120.09" width="5.42" height="5.56" fill="#b8b8f5" />
<rect x="459.64" y="1120.09" width="5.42" height="5.56" fill="#ea868e" />
<rect x="465.76" y="1120.09" width="5.42" height="5.56" fill="#b8b8f5" />
<rect x="55.20" y="1052.20" width="416.62" height="6.20" fill="#5a9a28" />
<rect x="55.90" y="1052.70" width="5.32" height="5.20" fill="#6cb630" />
<rect x="62.02" y="1052.70" width="5.32" height="5.20" fill="#6cb630" />
<rect x="68.14" y="1052.70" width="5.32" height="5.20" fill="#6cb630" />
<rect x="74.25" y="1052.70" width="5.32" height="5.20" fill="#6cb630" />
<rect x="80.37" y="1052.70" width="5.32" height="5.20" fill="#f2ee30" />
<rect x="86.49" y="1052.70" width="5.32" height="5.20" fill="#6cb630" />
<rect x="92.61" y="1052.70" width="5.32" height="5.20" fill="#6cb630" />
<rect x="98.73" y="1052.70" width="5.32" height="5.20" fill="#6cb630" />
<rect x="104.84" y="1052.70" width="5.32" height="5.20" fill="#6cb630" />
<rect x="110.96" y="1052.70" width="5.32" height="5.20" fill="#f2ee30" />
<rect x="117.08" y="1052.70" width="5.32" height="5.20" fill="#6cb630" />
<rect x="123.20" y="1052.70" width="5.32" height="5.20" fill="#6cb630" />
<rect x="129.32" y="1052.70" width="5.32" height="5.20" fill="#f2ee30" />
<rect x="135.43" y="1052.70" width="5.32" height="5.20" fill="#6cb630" />
<rect x="141.55" y="1052.70" width="5.32" height="5.20" fill="#f2ee30" />
<rect x="147.67" y="1052.70" width="5.32" height="5.20" fill="#6cb630" />
<rect x="153.79" y="1052.70" width="5.32" height="5.20" fill="#6cb630" />
<rect x="159.91" y="1052.70" width="5.32" height="5.20" fill="#6cb630" />
<rect x="166.02" y="1052.70" width="5.32" height="5.20" fill="#f2ee30" />
<rect x="172.14" y="1052.70" width="5.32" height="5.20" fill="#f2ee30" />
<rect x="178.26" y="1052.70" width="5.32" height="5.20" fill="#f2ee30" />
<rect x="184.38" y="1052.70" width="5.32" height="5.20" fill="#6cb630" />
<rect x="190.50" y="1052.70" width="5.32" height="5.20" fill="#f2ee30" />
<rect x="196.61" y="1052.70" width="5.32" height="5.20" fill="#6cb630" />
<rect x="202.73" y="1052.70" width="5.32" height="5.20" fill="#6cb630" />
<rect x="208.85" y="1052.70" width="5.32" height="5.20" fill="#6cb630" />
<rect x="214.97" y="1052.70" width="5.32" height="5.20" fill="#f2ee30" />
<rect x="221.09" y="1052.70" width="5.32" height="5.20" fill="#6cb630" />
<rect x="227.20" y="1052.70" width="5.32" height="5.20" fill="#6cb630" />
<rect x="233.32" y="1052.70" width="5.32" height="5.20" fill="#6cb630" />
<rect x="239.44" y="1052.70" width="5.32" height="5.20" fill="#f2ee30" />
<rect x="245.56" y="1052.70" width="5.32" height="5.20" fill="#6cb630" />
<rect x="251.68" y="1052.70" width="5.32" height="5.20" fill="#6cb630" />
<rect x="257.79" y="1052.70" width="5.32" height="5.20" fill="#6cb630" />
<rect x="263.91" y="1052.70" width="5.32" height="5.20" fill="#6cb630" />
<rect x="270.03" y="1052.70" width="5.32" height="5.20" fill="#6cb630" />
<rect x="276.15" y="1052.70" width="5.32" height="5.20" fill="#6cb630" />
<rect x="282.27" y="1052.70" width="5.32" height="5.20" fill="#6cb630" />
<rect x="288.38" y="1052.70" width="5.32" height="5.20" fill="#f2ee30" />
<rect x="294.50" y="1052.70" width="5.32" height="5.20" fill="#f2ee30" />
<rect x="300.62" y="1052.70" width="5.32" height="5.20" fill="#f2ee30" />
<rect x="306.74" y="1052.70" width="5.32" height="5.20" fill="#f2ee30" />
<rect x="312.86" y="1052.70" width="5.32" height="5.20" fill="#6cb630" />
<rect x="318.97" y="1052.70" width="5.32" height="5.20" fill="#f2ee30" />
<rect x="325.09" y="1052.70" width="5.32" height="5.20" fill="#f2ee30" />
<rect x="331.21" y="1052.70" width="5.32" height="5.20" fill="#f2ee30" />
<rect x="337.33" y="1052.70" width="5.32" height="5.20" fill="#f2ee30" />
<rect x="343.45" y="1052.70" width="5.32" height="5.20" fill="#6cb630" />
<rect x="349.56" y="1052.70" width="5.32" height="5.20" fill="#6cb630" />
<rect x="355.68" y="1052.70" width="5.32" height="5.20" fill="#f2ee30" />
<rect x="361.80" y="1052.70" width="5.32" height="5.20" fill="#f2ee30" />
<rect x="367.92" y="1052.70" width="5.32" height="5.20" fill="#f2ee30" />
<rect x="374.04" y="1052.70" width="5.32" height="5.20" fill="#6cb630" />
<rect x="380.15" y="1052.70" width="5.32" height="5.20" fill="#f2ee30" />
<rect x="386.27" y="1052.70" width="5.32" height="5.20" fill="#f2ee30" />
<rect x="392.39" y="1052.70" width="5.32" height="5.20" fill="#f2ee30" />
<rect x="398.51" y="1052.70" width="5.32" height="5.20" fill="#6cb630" />
<rect x="404.63" y="1052.70" width="5.32" height="5.20" fill="#f2ee30" />
<rect x="410.74" y="1052.70" width="5.32" height="5.20" fill="#6cb630" />
<rect x="416.86" y="1052.70" width="5.32" height="5.20" fill="#6cb630" />
<rect x="422.98" y="1052.70" width="5.32" height="5.20" fill="#f2ee30" />
<rect x="429.10" y="1052.70" width="5.32" height="5.20" fill="#f2ee30" />
<rect x="435.22" y="1052.70" width="5.32" height="5.20" fill="#f2ee30" />
<rect x="441.33" y="1052.70" width="5.32" height="5.20" fill="#6cb630" />
<rect x="447.45" y="1052.70" width="5.32" height="5.20" fill="#f2ee30" />
<rect x="453.57" y="1052.70" width="5.32" height="5.20" fill="#f2ee30" />
<rect x="459.69" y="1052.70" width="5.32" height="5.20" fill="#f2ee30" />
<rect x="465.81" y="1052.70" width="5.32" height="5.20" fill="#6cb630" />
</g>
<text x="53.60" y="1056.80" font-size="4.8" text-anchor="end" font-weight="bold" fill="#333" >cGVHD_YN</text>
<text x="483.40" y="1068.33" font-size="5.25" text-anchor="start" fill="#111" stroke="#111" stroke-width="0.12">CD8+%TEMRA</text>
<text x="483.40" y="1074.59" font-size="5.25" text-anchor="start" fill="#111" stroke="#111" stroke-width="0.12">Tcon %EM</text>
<text x="483.40" y="1080.85" font-size="5.25" text-anchor="start" fill="#111" stroke="#111" stroke-width="0.12">Treg %EM</text>
<text x="483.40" y="1087.11" font-size="5.25" text-anchor="start" fill="#111" stroke="#111" stroke-width="0.12">CD8+%EM</text>
<text x="483.40" y="1093.37" font-size="5.25" text-anchor="start" fill="#111" stroke="#111" stroke-width="0.12">Tcon %naive</text>
<text x="483.40" y="1099.63" font-size="5.25" text-anchor="start" fill="#111" stroke="#111" stroke-width="0.12">CD8+%naive</text>
<text x="483.40" y="1105.89" font-size="5.25" text-anchor="start" fill="#111" stroke="#111" stroke-width="0.12">Treg %naive</text>
<text x="483.40" y="1112.15" font-size="5.25" text-anchor="start" fill="#111" stroke="#111" stroke-width="0.12">Tcon %CM</text>
<text x="483.40" y="1118.41" font-size="5.25" text-anchor="start" fill="#111" stroke="#111" stroke-width="0.12">Treg %CM</text>
<text x="483.40" y="1124.67" font-size="5.25" text-anchor="start" fill="#111" stroke="#111" stroke-width="0.12">CD8+%CM</text>
<line x1="48.45" y1="1072.78" x2="55.85" y2="1072.78" stroke="#666" stroke-width="0.9" />
<line x1="48.45" y1="1079.01" x2="55.85" y2="1079.01" stroke="#666" stroke-width="0.9" />
<line x1="48.45" y1="1072.78" x2="48.45" y2="1079.01" stroke="#666" stroke-width="0.9" />
<line x1="32.97" y1="1075.92" x2="48.45" y2="1075.92" stroke="#666" stroke-width="0.9" />
<line x1="32.97" y1="1066.50" x2="55.85" y2="1066.50" stroke="#666" stroke-width="0.9" />
<line x1="32.97" y1="1066.50" x2="32.97" y2="1075.92" stroke="#666" stroke-width="0.9" />
<line x1="20.86" y1="1071.21" x2="32.97" y2="1071.21" stroke="#666" stroke-width="0.9" />
<line x1="20.86" y1="1085.30" x2="55.85" y2="1085.30" stroke="#666" stroke-width="0.9" />
<line x1="20.86" y1="1071.21" x2="20.86" y2="1085.30" stroke="#666" stroke-width="0.9" />
<line x1="2.42" y1="1078.21" x2="20.86" y2="1078.21" stroke="#666" stroke-width="0.9" />
<line x1="46.43" y1="1091.53" x2="55.85" y2="1091.53" stroke="#666" stroke-width="0.9" />
<line x1="46.43" y1="1097.82" x2="55.85" y2="1097.82" stroke="#666" stroke-width="0.9" />
<line x1="46.43" y1="1091.53" x2="46.43" y2="1097.82" stroke="#666" stroke-width="0.9" />
<line x1="40.78" y1="1094.63" x2="46.43" y2="1094.63" stroke="#666" stroke-width="0.9" />
<line x1="40.78" y1="1104.05" x2="55.85" y2="1104.05" stroke="#666" stroke-width="0.9" />
<line x1="40.78" y1="1094.63" x2="40.78" y2="1104.05" stroke="#666" stroke-width="0.9" />
<line x1="25.57" y1="1099.34" x2="40.78" y2="1099.34" stroke="#666" stroke-width="0.9" />
<line x1="50.07" y1="1110.37" x2="55.85" y2="1110.37" stroke="#666" stroke-width="0.9" />
<line x1="50.07" y1="1116.57" x2="55.85" y2="1116.57" stroke="#666" stroke-width="0.9" />
<line x1="50.07" y1="1110.37" x2="50.07" y2="1116.57" stroke="#666" stroke-width="0.9" />
<line x1="39.03" y1="1113.47" x2="50.07" y2="1113.47" stroke="#666" stroke-width="0.9" />
<line x1="39.03" y1="1122.89" x2="55.85" y2="1122.89" stroke="#666" stroke-width="0.9" />
<line x1="39.03" y1="1113.47" x2="39.03" y2="1122.89" stroke="#666" stroke-width="0.9" />
<line x1="25.57" y1="1118.18" x2="39.03" y2="1118.18" stroke="#666" stroke-width="0.9" />
<line x1="25.57" y1="1099.34" x2="25.57" y2="1118.18" stroke="#666" stroke-width="0.9" />
<line x1="2.42" y1="1108.76" x2="25.57" y2="1108.76" stroke="#666" stroke-width="0.9" />
<line x1="2.42" y1="1078.21" x2="2.42" y2="1108.76" stroke="#666" stroke-width="0.9" />
<line x1="64.68" y1="1046.90" x2="70.80" y2="1046.90" stroke="#666" stroke-width="0.8" />
<line x1="64.68" y1="1046.90" x2="64.68" y2="1050.20" stroke="#666" stroke-width="0.8" />
<line x1="70.80" y1="1046.90" x2="70.80" y2="1050.20" stroke="#666" stroke-width="0.8" />
<line x1="58.56" y1="1044.30" x2="67.74" y2="1044.30" stroke="#666" stroke-width="0.8" />
<line x1="58.56" y1="1044.30" x2="58.56" y2="1050.20" stroke="#666" stroke-width="0.8" />
<line x1="67.74" y1="1044.30" x2="67.74" y2="1046.90" stroke="#666" stroke-width="0.8" />
<line x1="63.15" y1="1040.00" x2="76.91" y2="1040.00" stroke="#666" stroke-width="0.8" />
<line x1="63.15" y1="1040.00" x2="63.15" y2="1044.30" stroke="#666" stroke-width="0.8" />
<line x1="76.91" y1="1040.00" x2="76.91" y2="1050.20" stroke="#666" stroke-width="0.8" />
<line x1="83.03" y1="1047.09" x2="89.15" y2="1047.09" stroke="#666" stroke-width="0.8" />
<line x1="83.03" y1="1047.09" x2="83.03" y2="1050.20" stroke="#666" stroke-width="0.8" />
<line x1="89.15" y1="1047.09" x2="89.15" y2="1050.20" stroke="#666" stroke-width="0.8" />
<line x1="95.27" y1="1047.00" x2="101.39" y2="1047.00" stroke="#666" stroke-width="0.8" />
<line x1="95.27" y1="1047.00" x2="95.27" y2="1050.20" stroke="#666" stroke-width="0.8" />
<line x1="101.39" y1="1047.00" x2="101.39" y2="1050.20" stroke="#666" stroke-width="0.8" />
<line x1="98.33" y1="1047.41" x2="107.50" y2="1047.41" stroke="#666" stroke-width="0.8" />
<line x1="98.33" y1="1047.41" x2="98.33" y2="1047.00" stroke="#666" stroke-width="0.8" />
<line x1="107.50" y1="1047.41" x2="107.50" y2="1050.20" stroke="#666" stroke-width="0.8" />
<line x1="113.62" y1="1046.73" x2="119.74" y2="1046.73" stroke="#666" stroke-width="0.8" />
<line x1="113.62" y1="1046.73" x2="113.62" y2="1050.20" stroke="#666" stroke-width="0.8" />
<line x1="119.74" y1="1046.73" x2="119.74" y2="1050.20" stroke="#666" stroke-width="0.8" />
<line x1="116.68" y1="1047.77" x2="125.86" y2="1047.77" stroke="#666" stroke-width="0.8" />
<line x1="116.68" y1="1047.77" x2="116.68" y2="1046.73" stroke="#666" stroke-width="0.8" />
<line x1="125.86" y1="1047.77" x2="125.86" y2="1050.20" stroke="#666" stroke-width="0.8" />
<line x1="102.91" y1="1044.65" x2="121.27" y2="1044.65" stroke="#666" stroke-width="0.8" />
<line x1="102.91" y1="1044.65" x2="102.91" y2="1047.41" stroke="#666" stroke-width="0.8" />
<line x1="121.27" y1="1044.65" x2="121.27" y2="1047.77" stroke="#666" stroke-width="0.8" />
<line x1="86.09" y1="1040.50" x2="112.09" y2="1040.50" stroke="#666" stroke-width="0.8" />
<line x1="86.09" y1="1040.50" x2="86.09" y2="1047.09" stroke="#666" stroke-width="0.8" />
<line x1="112.09" y1="1040.50" x2="112.09" y2="1044.65" stroke="#666" stroke-width="0.8" />
<line x1="150.33" y1="1046.76" x2="156.45" y2="1046.76" stroke="#666" stroke-width="0.8" />
<line x1="150.33" y1="1046.76" x2="150.33" y2="1050.20" stroke="#666" stroke-width="0.8" />
<line x1="156.45" y1="1046.76" x2="156.45" y2="1050.20" stroke="#666" stroke-width="0.8" />
<line x1="162.56" y1="1046.69" x2="168.68" y2="1046.69" stroke="#666" stroke-width="0.8" />
<line x1="162.56" y1="1046.69" x2="162.56" y2="1050.20" stroke="#666" stroke-width="0.8" />
<line x1="168.68" y1="1046.69" x2="168.68" y2="1050.20" stroke="#666" stroke-width="0.8" />
<line x1="153.39" y1="1048.00" x2="165.62" y2="1048.00" stroke="#666" stroke-width="0.8" />
<line x1="153.39" y1="1048.00" x2="153.39" y2="1046.76" stroke="#666" stroke-width="0.8" />
<line x1="165.62" y1="1048.00" x2="165.62" y2="1046.69" stroke="#666" stroke-width="0.8" />
<line x1="159.51" y1="1048.00" x2="174.80" y2="1048.00" stroke="#666" stroke-width="0.8" />
<line x1="159.51" y1="1048.00" x2="159.51" y2="1048.00" stroke="#666" stroke-width="0.8" />
<line x1="174.80" y1="1048.00" x2="174.80" y2="1050.20" stroke="#666" stroke-width="0.8" />
<line x1="144.21" y1="1048.00" x2="167.15" y2="1048.00" stroke="#666" stroke-width="0.8" />
<line x1="144.21" y1="1048.00" x2="144.21" y2="1050.20" stroke="#666" stroke-width="0.8" />
<line x1="167.15" y1="1048.00" x2="167.15" y2="1048.00" stroke="#666" stroke-width="0.8" />
<line x1="138.09" y1="1045.53" x2="155.68" y2="1045.53" stroke="#666" stroke-width="0.8" />
<line x1="138.09" y1="1045.53" x2="138.09" y2="1050.20" stroke="#666" stroke-width="0.8" />
<line x1="155.68" y1="1045.53" x2="155.68" y2="1048.00" stroke="#666" stroke-width="0.8" />
<line x1="131.98" y1="1041.50" x2="146.89" y2="1041.50" stroke="#666" stroke-width="0.8" />
<line x1="131.98" y1="1041.50" x2="131.98" y2="1050.20" stroke="#666" stroke-width="0.8" />
<line x1="146.89" y1="1041.50" x2="146.89" y2="1045.53" stroke="#666" stroke-width="0.8" />
<line x1="99.09" y1="1038.20" x2="139.43" y2="1038.20" stroke="#666" stroke-width="0.8" />
<line x1="99.09" y1="1038.20" x2="99.09" y2="1040.50" stroke="#666" stroke-width="0.8" />
<line x1="139.43" y1="1038.20" x2="139.43" y2="1041.50" stroke="#666" stroke-width="0.8" />
<line x1="70.03" y1="1034.80" x2="129.30" y2="1034.80" stroke="#666" stroke-width="0.8" />
<line x1="70.03" y1="1034.80" x2="70.03" y2="1040.00" stroke="#666" stroke-width="0.8" />
<line x1="129.30" y1="1034.80" x2="129.30" y2="1038.20" stroke="#666" stroke-width="0.8" />
<line x1="187.04" y1="1046.80" x2="193.16" y2="1046.80" stroke="#666" stroke-width="0.8" />
<line x1="187.04" y1="1046.80" x2="187.04" y2="1050.20" stroke="#666" stroke-width="0.8" />
<line x1="193.16" y1="1046.80" x2="193.16" y2="1050.20" stroke="#666" stroke-width="0.8" />
<line x1="180.92" y1="1033.50" x2="190.10" y2="1033.50" stroke="#666" stroke-width="0.8" />
<line x1="180.92" y1="1033.50" x2="180.92" y2="1050.20" stroke="#666" stroke-width="0.8" />
<line x1="190.10" y1="1033.50" x2="190.10" y2="1046.80" stroke="#666" stroke-width="0.8" />
<line x1="98.70" y1="1020.00" x2="185.00" y2="1020.00" stroke="#666" stroke-width="0.8" />
<line x1="98.70" y1="1020.00" x2="98.70" y2="1034.80" stroke="#666" stroke-width="0.8" />
<line x1="185.00" y1="1020.00" x2="185.00" y2="1033.50" stroke="#666" stroke-width="0.8" />
<line x1="205.39" y1="1046.78" x2="211.51" y2="1046.78" stroke="#666" stroke-width="0.8" />
<line x1="205.39" y1="1046.78" x2="205.39" y2="1050.20" stroke="#666" stroke-width="0.8" />
<line x1="211.51" y1="1046.78" x2="211.51" y2="1050.20" stroke="#666" stroke-width="0.8" />
<line x1="208.45" y1="1048.00" x2="217.63" y2="1048.00" stroke="#666" stroke-width="0.8" />
<line x1="208.45" y1="1048.00" x2="208.45" y2="1046.78" stroke="#666" stroke-width="0.8" />
<line x1="217.63" y1="1048.00" x2="217.63" y2="1050.20" stroke="#666" stroke-width="0.8" />
<line x1="213.04" y1="1047.23" x2="223.75" y2="1047.23" stroke="#666" stroke-width="0.8" />
<line x1="213.04" y1="1047.23" x2="213.04" y2="1048.00" stroke="#666" stroke-width="0.8" />
<line x1="223.75" y1="1047.23" x2="223.75" y2="1050.20" stroke="#666" stroke-width="0.8" />
<line x1="218.39" y1="1044.73" x2="229.86" y2="1044.73" stroke="#666" stroke-width="0.8" />
<line x1="218.39" y1="1044.73" x2="218.39" y2="1047.23" stroke="#666" stroke-width="0.8" />
<line x1="229.86" y1="1044.73" x2="229.86" y2="1050.20" stroke="#666" stroke-width="0.8" />
<line x1="242.10" y1="1046.39" x2="248.22" y2="1046.39" stroke="#666" stroke-width="0.8" />
<line x1="242.10" y1="1046.39" x2="242.10" y2="1050.20" stroke="#666" stroke-width="0.8" />
<line x1="248.22" y1="1046.39" x2="248.22" y2="1050.20" stroke="#666" stroke-width="0.8" />
<line x1="235.98" y1="1048.00" x2="245.16" y2="1048.00" stroke="#666" stroke-width="0.8" />
<line x1="235.98" y1="1048.00" x2="235.98" y2="1050.20" stroke="#666" stroke-width="0.8" />
<line x1="245.16" y1="1048.00" x2="245.16" y2="1046.39" stroke="#666" stroke-width="0.8" />
<line x1="254.34" y1="1047.17" x2="260.45" y2="1047.17" stroke="#666" stroke-width="0.8" />
<line x1="254.34" y1="1047.17" x2="254.34" y2="1050.20" stroke="#666" stroke-width="0.8" />
<line x1="260.45" y1="1047.17" x2="260.45" y2="1050.20" stroke="#666" stroke-width="0.8" />
<line x1="240.57" y1="1046.00" x2="257.39" y2="1046.00" stroke="#666" stroke-width="0.8" />
<line x1="240.57" y1="1046.00" x2="240.57" y2="1048.00" stroke="#666" stroke-width="0.8" />
<line x1="257.39" y1="1046.00" x2="257.39" y2="1047.17" stroke="#666" stroke-width="0.8" />
<line x1="224.13" y1="1040.00" x2="248.98" y2="1040.00" stroke="#666" stroke-width="0.8" />
<line x1="224.13" y1="1040.00" x2="224.13" y2="1044.73" stroke="#666" stroke-width="0.8" />
<line x1="248.98" y1="1040.00" x2="248.98" y2="1046.00" stroke="#666" stroke-width="0.8" />
<line x1="272.69" y1="1046.88" x2="278.81" y2="1046.88" stroke="#666" stroke-width="0.8" />
<line x1="272.69" y1="1046.88" x2="272.69" y2="1050.20" stroke="#666" stroke-width="0.8" />
<line x1="278.81" y1="1046.88" x2="278.81" y2="1050.20" stroke="#666" stroke-width="0.8" />
<line x1="266.57" y1="1048.00" x2="275.75" y2="1048.00" stroke="#666" stroke-width="0.8" />
<line x1="266.57" y1="1048.00" x2="266.57" y2="1050.20" stroke="#666" stroke-width="0.8" />
<line x1="275.75" y1="1048.00" x2="275.75" y2="1046.88" stroke="#666" stroke-width="0.8" />
<line x1="271.16" y1="1048.00" x2="284.93" y2="1048.00" stroke="#666" stroke-width="0.8" />
<line x1="271.16" y1="1048.00" x2="271.16" y2="1048.00" stroke="#666" stroke-width="0.8" />
<line x1="284.93" y1="1048.00" x2="284.93" y2="1050.20" stroke="#666" stroke-width="0.8" />
<line x1="303.28" y1="1045.99" x2="309.40" y2="1045.99" stroke="#666" stroke-width="0.8" />
<line x1="303.28" y1="1045.99" x2="303.28" y2="1050.20" stroke="#666" stroke-width="0.8" />
<line x1="309.40" y1="1045.99" x2="309.40" y2="1050.20" stroke="#666" stroke-width="0.8" />
<line x1="297.16" y1="1048.00" x2="306.34" y2="1048.00" stroke="#666" stroke-width="0.8" />
<line x1="297.16" y1="1048.00" x2="297.16" y2="1050.20" stroke="#666" stroke-width="0.8" />
<line x1="306.34" y1="1048.00" x2="306.34" y2="1045.99" stroke="#666" stroke-width="0.8" />
<line x1="291.04" y1="1047.47" x2="301.75" y2="1047.47" stroke="#666" stroke-width="0.8" />
<line x1="291.04" y1="1047.47" x2="291.04" y2="1050.20" stroke="#666" stroke-width="0.8" />
<line x1="301.75" y1="1047.47" x2="301.75" y2="1048.00" stroke="#666" stroke-width="0.8" />
<line x1="278.04" y1="1044.69" x2="296.40" y2="1044.69" stroke="#666" stroke-width="0.8" />
<line x1="278.04" y1="1044.69" x2="278.04" y2="1048.00" stroke="#666" stroke-width="0.8" />
<line x1="296.40" y1="1044.69" x2="296.40" y2="1047.47" stroke="#666" stroke-width="0.8" />
<line x1="287.22" y1="1039.30" x2="315.51" y2="1039.30" stroke="#666" stroke-width="0.8" />
<line x1="287.22" y1="1039.30" x2="287.22" y2="1044.69" stroke="#666" stroke-width="0.8" />
<line x1="315.51" y1="1039.30" x2="315.51" y2="1050.20" stroke="#666" stroke-width="0.8" />
<line x1="236.55" y1="1037.50" x2="301.37" y2="1037.50" stroke="#666" stroke-width="0.8" />
<line x1="236.55" y1="1037.50" x2="236.55" y2="1040.00" stroke="#666" stroke-width="0.8" />
<line x1="301.37" y1="1037.50" x2="301.37" y2="1039.30" stroke="#666" stroke-width="0.8" />
<line x1="327.75" y1="1047.19" x2="333.87" y2="1047.19" stroke="#666" stroke-width="0.8" />
<line x1="327.75" y1="1047.19" x2="327.75" y2="1050.20" stroke="#666" stroke-width="0.8" />
<line x1="333.87" y1="1047.19" x2="333.87" y2="1050.20" stroke="#666" stroke-width="0.8" />
<line x1="321.63" y1="1045.00" x2="330.81" y2="1045.00" stroke="#666" stroke-width="0.8" />
<line x1="321.63" y1="1045.00" x2="321.63" y2="1050.20" stroke="#666" stroke-width="0.8" />
<line x1="330.81" y1="1045.00" x2="330.81" y2="1047.19" stroke="#666" stroke-width="0.8" />
<line x1="346.11" y1="1046.95" x2="352.22" y2="1046.95" stroke="#666" stroke-width="0.8" />
<line x1="346.11" y1="1046.95" x2="346.11" y2="1050.20" stroke="#666" stroke-width="0.8" />
<line x1="352.22" y1="1046.95" x2="352.22" y2="1050.20" stroke="#666" stroke-width="0.8" />
<line x1="339.99" y1="1045.50" x2="349.16" y2="1045.50" stroke="#666" stroke-width="0.8" />
<line x1="339.99" y1="1045.50" x2="339.99" y2="1050.20" stroke="#666" stroke-width="0.8" />
<line x1="349.16" y1="1045.50" x2="349.16" y2="1046.95" stroke="#666" stroke-width="0.8" />
<line x1="326.22" y1="1040.50" x2="344.58" y2="1040.50" stroke="#666" stroke-width="0.8" />
<line x1="326.22" y1="1040.50" x2="326.22" y2="1045.00" stroke="#666" stroke-width="0.8" />
<line x1="344.58" y1="1040.50" x2="344.58" y2="1045.50" stroke="#666" stroke-width="0.8" />
<line x1="370.58" y1="1047.20" x2="376.69" y2="1047.20" stroke="#666" stroke-width="0.8" />
<line x1="370.58" y1="1047.20" x2="370.58" y2="1050.20" stroke="#666" stroke-width="0.8" />
<line x1="376.69" y1="1047.20" x2="376.69" y2="1050.20" stroke="#666" stroke-width="0.8" />
<line x1="364.46" y1="1048.00" x2="373.64" y2="1048.00" stroke="#666" stroke-width="0.8" />
<line x1="364.46" y1="1048.00" x2="364.46" y2="1050.20" stroke="#666" stroke-width="0.8" />
<line x1="373.64" y1="1048.00" x2="373.64" y2="1047.20" stroke="#666" stroke-width="0.8" />
<line x1="382.81" y1="1046.59" x2="388.93" y2="1046.59" stroke="#666" stroke-width="0.8" />
<line x1="382.81" y1="1046.59" x2="382.81" y2="1050.20" stroke="#666" stroke-width="0.8" />
<line x1="388.93" y1="1046.59" x2="388.93" y2="1050.20" stroke="#666" stroke-width="0.8" />
<line x1="395.05" y1="1046.86" x2="401.17" y2="1046.86" stroke="#666" stroke-width="0.8" />
<line x1="395.05" y1="1046.86" x2="395.05" y2="1050.20" stroke="#666" stroke-width="0.8" />
<line x1="401.17" y1="1046.86" x2="401.17" y2="1050.20" stroke="#666" stroke-width="0.8" />
<line x1="385.87" y1="1048.00" x2="398.11" y2="1048.00" stroke="#666" stroke-width="0.8" />
<line x1="385.87" y1="1048.00" x2="385.87" y2="1046.59" stroke="#666" stroke-width="0.8" />
<line x1="398.11" y1="1048.00" x2="398.11" y2="1046.86" stroke="#666" stroke-width="0.8" />
<line x1="369.05" y1="1048.00" x2="391.99" y2="1048.00" stroke="#666" stroke-width="0.8" />
<line x1="369.05" y1="1048.00" x2="369.05" y2="1048.00" stroke="#666" stroke-width="0.8" />
<line x1="391.99" y1="1048.00" x2="391.99" y2="1048.00" stroke="#666" stroke-width="0.8" />
<line x1="413.40" y1="1047.70" x2="419.52" y2="1047.70" stroke="#666" stroke-width="0.8" />
<line x1="413.40" y1="1047.70" x2="413.40" y2="1050.20" stroke="#666" stroke-width="0.8" />
<line x1="419.52" y1="1047.70" x2="419.52" y2="1050.20" stroke="#666" stroke-width="0.8" />
<line x1="407.29" y1="1048.00" x2="416.46" y2="1048.00" stroke="#666" stroke-width="0.8" />
<line x1="407.29" y1="1048.00" x2="407.29" y2="1050.20" stroke="#666" stroke-width="0.8" />
<line x1="416.46" y1="1048.00" x2="416.46" y2="1047.70" stroke="#666" stroke-width="0.8" />
<line x1="380.52" y1="1047.56" x2="411.87" y2="1047.56" stroke="#666" stroke-width="0.8" />
<line x1="380.52" y1="1047.56" x2="380.52" y2="1048.00" stroke="#666" stroke-width="0.8" />
<line x1="411.87" y1="1047.56" x2="411.87" y2="1048.00" stroke="#666" stroke-width="0.8" />
<line x1="358.34" y1="1043.50" x2="396.20" y2="1043.50" stroke="#666" stroke-width="0.8" />
<line x1="358.34" y1="1043.50" x2="358.34" y2="1050.20" stroke="#666" stroke-width="0.8" />
<line x1="396.20" y1="1043.50" x2="396.20" y2="1047.56" stroke="#666" stroke-width="0.8" />
<line x1="431.76" y1="1045.73" x2="437.88" y2="1045.73" stroke="#666" stroke-width="0.8" />
<line x1="431.76" y1="1045.73" x2="431.76" y2="1050.20" stroke="#666" stroke-width="0.8" />
<line x1="437.88" y1="1045.73" x2="437.88" y2="1050.20" stroke="#666" stroke-width="0.8" />
<line x1="434.82" y1="1048.00" x2="443.99" y2="1048.00" stroke="#666" stroke-width="0.8" />
<line x1="434.82" y1="1048.00" x2="434.82" y2="1045.73" stroke="#666" stroke-width="0.8" />
<line x1="443.99" y1="1048.00" x2="443.99" y2="1050.20" stroke="#666" stroke-width="0.8" />
<line x1="425.64" y1="1048.00" x2="439.40" y2="1048.00" stroke="#666" stroke-width="0.8" />
<line x1="425.64" y1="1048.00" x2="425.64" y2="1050.20" stroke="#666" stroke-width="0.8" />
<line x1="439.40" y1="1048.00" x2="439.40" y2="1048.00" stroke="#666" stroke-width="0.8" />
<line x1="456.23" y1="1045.80" x2="462.35" y2="1045.80" stroke="#666" stroke-width="0.8" />
<line x1="456.23" y1="1045.80" x2="456.23" y2="1050.20" stroke="#666" stroke-width="0.8" />
<line x1="462.35" y1="1045.80" x2="462.35" y2="1050.20" stroke="#666" stroke-width="0.8" />
<line x1="450.11" y1="1048.00" x2="459.29" y2="1048.00" stroke="#666" stroke-width="0.8" />
<line x1="450.11" y1="1048.00" x2="450.11" y2="1050.20" stroke="#666" stroke-width="0.8" />
<line x1="459.29" y1="1048.00" x2="459.29" y2="1045.80" stroke="#666" stroke-width="0.8" />
<line x1="432.52" y1="1048.00" x2="454.70" y2="1048.00" stroke="#666" stroke-width="0.8" />
<line x1="432.52" y1="1048.00" x2="432.52" y2="1048.00" stroke="#666" stroke-width="0.8" />
<line x1="454.70" y1="1048.00" x2="454.70" y2="1048.00" stroke="#666" stroke-width="0.8" />
<line x1="443.61" y1="1043.00" x2="468.47" y2="1043.00" stroke="#666" stroke-width="0.8" />
<line x1="443.61" y1="1043.00" x2="443.61" y2="1048.00" stroke="#666" stroke-width="0.8" />
<line x1="468.47" y1="1043.00" x2="468.47" y2="1050.20" stroke="#666" stroke-width="0.8" />
<line x1="377.27" y1="1041.00" x2="456.04" y2="1041.00" stroke="#666" stroke-width="0.8" />
<line x1="377.27" y1="1041.00" x2="377.27" y2="1043.50" stroke="#666" stroke-width="0.8" />
<line x1="456.04" y1="1041.00" x2="456.04" y2="1043.00" stroke="#666" stroke-width="0.8" />
<line x1="336.25" y1="1035.00" x2="428.75" y2="1035.00" stroke="#666" stroke-width="0.8" />
<line x1="336.25" y1="1035.00" x2="336.25" y2="1040.50" stroke="#666" stroke-width="0.8" />
<line x1="428.75" y1="1035.00" x2="428.75" y2="1041.00" stroke="#666" stroke-width="0.8" />
<line x1="272.50" y1="1029.30" x2="382.50" y2="1029.30" stroke="#666" stroke-width="0.8" />
<line x1="272.50" y1="1029.30" x2="272.50" y2="1037.50" stroke="#666" stroke-width="0.8" />
<line x1="382.50" y1="1029.30" x2="382.50" y2="1035.00" stroke="#666" stroke-width="0.8" />
<line x1="199.27" y1="1017.40" x2="327.50" y2="1017.40" stroke="#666" stroke-width="0.8" />
<line x1="199.27" y1="1017.40" x2="199.27" y2="1050.20" stroke="#666" stroke-width="0.8" />
<line x1="327.50" y1="1017.40" x2="327.50" y2="1029.30" stroke="#666" stroke-width="0.8" />
<line x1="141.40" y1="1016.40" x2="263.39" y2="1016.40" stroke="#666" stroke-width="0.8" />
<line x1="141.40" y1="1016.40" x2="141.40" y2="1020.00" stroke="#666" stroke-width="0.8" />
<line x1="263.39" y1="1016.40" x2="263.39" y2="1017.40" stroke="#666" stroke-width="0.8" />
</svg></body></html>
